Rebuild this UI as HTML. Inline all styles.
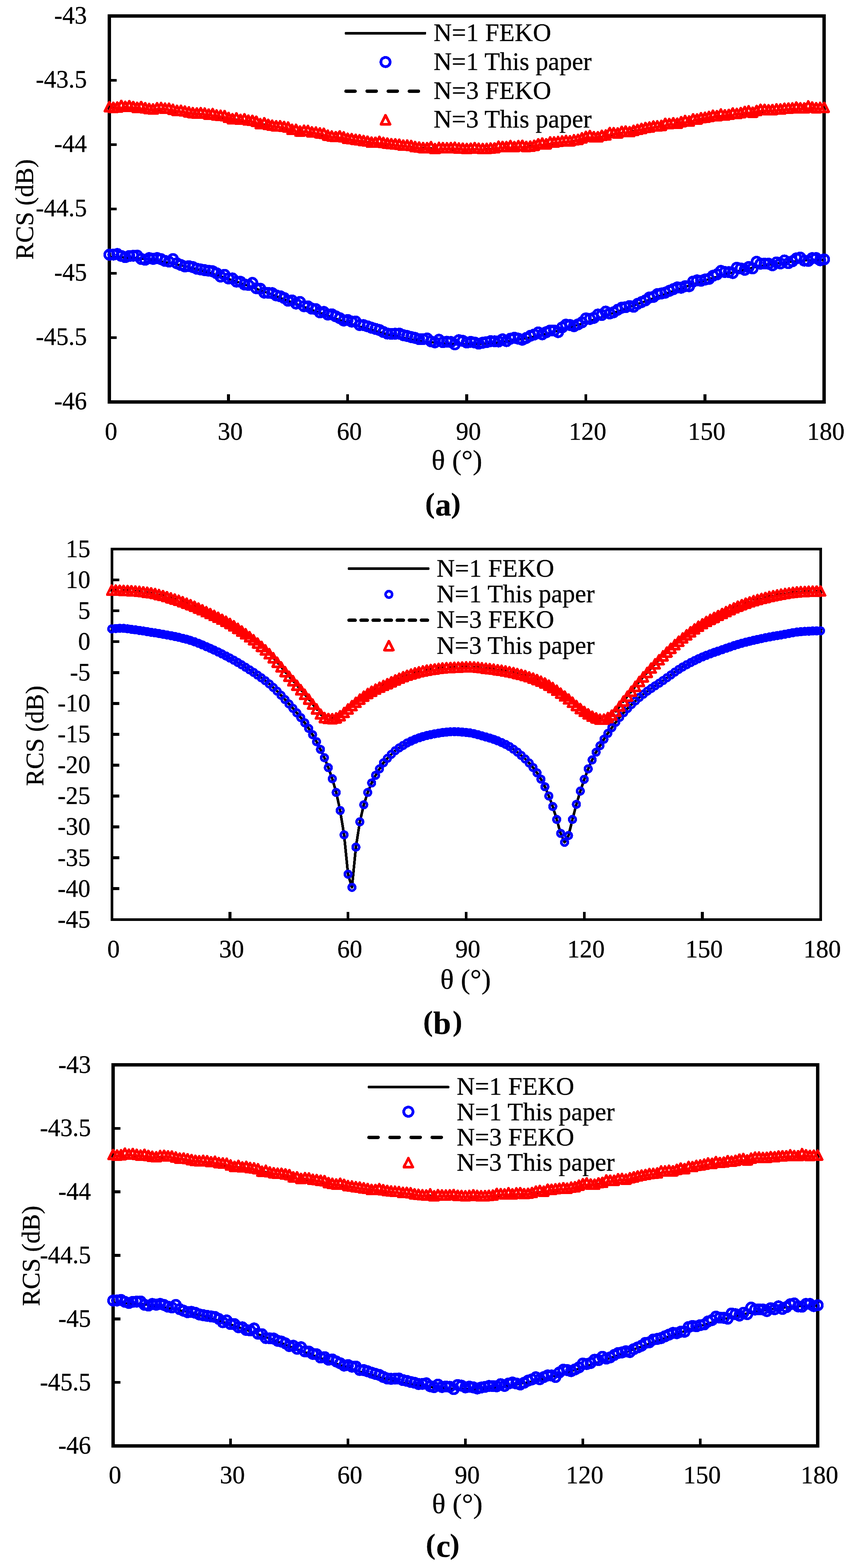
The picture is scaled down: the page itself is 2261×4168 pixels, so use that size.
<!DOCTYPE html>
<html lang="en"><head><meta charset="utf-8"><title>RCS versus θ for N=1 and N=3: FEKO and this paper</title>
<style>html,body{margin:0;padding:0;background:#fff}body{width:2261px;height:4168px;overflow:hidden}svg{display:block}text{font-family:'Liberation Serif', 'DejaVu Serif', serif;fill:#000;stroke:#000;stroke-width:0.5px;stroke-linejoin:round}</style>
</head><body>
<svg width="2261" height="4168" viewBox="0 0 2261 4168" shape-rendering="crispEdges">
<rect width="2261" height="4168" fill="#fff"/>
<g id="chart-a">
<g fill="none" stroke="#000" stroke-width="8.8"><rect x="290.7" y="42.4" width="1898.9" height="1025.9"/><path d="M290.7 213.38h19.5M290.7 384.37h19.5M290.7 555.35h19.5M290.7 726.33h19.5M290.7 897.32h19.5M607.18 1068.3v-20M923.67 1068.3v-20M1240.15 1068.3v-20M1556.63 1068.3v-20M1873.12 1068.3v-20" stroke-width="7.5"/></g>
<g><text transform="translate(230.9 62.5) scale(1 1.045)" font-size="65.2" text-anchor="end">-43</text><text transform="translate(230.9 233.48) scale(1 1.045)" font-size="65.2" text-anchor="end">-43.5</text><text transform="translate(230.9 404.47) scale(1 1.045)" font-size="65.2" text-anchor="end">-44</text><text transform="translate(230.9 575.45) scale(1 1.045)" font-size="65.2" text-anchor="end">-44.5</text><text transform="translate(230.9 746.43) scale(1 1.045)" font-size="65.2" text-anchor="end">-45</text><text transform="translate(230.9 917.42) scale(1 1.045)" font-size="65.2" text-anchor="end">-45.5</text><text transform="translate(230.9 1088.4) scale(1 1.045)" font-size="65.2" text-anchor="end">-46</text><text transform="translate(295.2 1169) scale(1 1.03)" font-size="66.4" text-anchor="middle">0</text><text transform="translate(611.68 1169) scale(1 1.03)" font-size="66.4" text-anchor="middle">30</text><text transform="translate(928.17 1169) scale(1 1.03)" font-size="66.4" text-anchor="middle">60</text><text transform="translate(1244.65 1169) scale(1 1.03)" font-size="66.4" text-anchor="middle">90</text><text transform="translate(1561.13 1169) scale(1 1.03)" font-size="66.4" text-anchor="middle">120</text><text transform="translate(1877.62 1169) scale(1 1.03)" font-size="66.4" text-anchor="middle">150</text><text transform="translate(2194.1 1169) scale(1 1.03)" font-size="66.4" text-anchor="middle">180</text></g>
<text transform="translate(87.6 556.7) rotate(-90)" font-size="67.2" text-anchor="middle">RCS (dB)</text>
<text transform="translate(1213.9 1247.5)" font-size="75" text-anchor="middle">θ (°)</text>
<text font-weight="bold" stroke-width="0.3"><tspan x="1129.7" y="1362.7" font-size="76">(</tspan><tspan x="1156.3" y="1370" font-size="85">a</tspan><tspan x="1198.4" y="1362.7" font-size="76">)</tspan></text>
<polyline points="290.7,683.15 301.25,683.22 311.8,683.44 322.35,683.79 332.9,684.28 343.45,684.92 354,685.69 364.55,686.6 375.1,687.65 385.64,688.84 396.19,690.16 406.74,691.61 417.29,693.19 427.84,694.91 438.39,696.75 448.94,698.71 459.49,700.8 470.04,703.01 480.59,705.34 491.14,707.78 501.69,710.33 512.24,712.99 522.79,715.76 533.34,718.63 543.89,721.6 554.44,724.66 564.99,727.82 575.53,731.06 586.08,734.39 596.63,737.79 607.18,741.27 617.73,744.83 628.28,748.45 638.83,752.13 649.38,755.87 659.93,759.66 670.48,763.5 681.03,767.39 691.58,771.32 702.13,775.28 712.68,779.27 723.23,783.28 733.78,787.32 744.33,791.37 754.88,795.42 765.42,799.49 775.97,803.55 786.52,807.61 797.07,811.66 807.62,815.69 818.17,819.71 828.72,823.7 839.27,827.65 849.82,831.58 860.37,835.46 870.92,839.3 881.47,843.09 892.02,846.83 902.57,850.5 913.12,854.12 923.67,857.66 934.22,861.14 944.77,864.53 955.32,867.85 965.86,871.08 976.41,874.22 986.96,877.28 997.51,880.23 1008.06,883.08 1018.61,885.83 1029.16,888.48 1039.71,891.01 1050.26,893.43 1060.81,895.73 1071.36,897.92 1081.91,899.98 1092.46,901.92 1103.01,903.73 1113.56,905.41 1124.11,906.97 1134.66,908.39 1145.2,909.67 1155.75,910.82 1166.3,911.83 1176.85,912.71 1187.4,913.44 1197.95,914.04 1208.5,914.49 1219.05,914.8 1229.6,914.97 1240.15,915 1250.7,914.89 1261.25,914.64 1271.8,914.25 1282.35,913.72 1292.9,913.05 1303.45,912.24 1314,911.29 1324.55,910.21 1335.1,908.99 1345.64,907.65 1356.19,906.17 1366.74,904.56 1377.29,902.83 1387.84,900.98 1398.39,899 1408.94,896.9 1419.49,894.69 1430.04,892.37 1440.59,889.93 1451.14,887.39 1461.69,884.75 1472.24,882 1482.79,879.16 1493.34,876.23 1503.89,873.21 1514.44,870.1 1524.98,866.91 1535.53,863.65 1546.08,860.31 1556.63,856.9 1567.18,853.43 1577.73,849.9 1588.28,846.31 1598.83,842.68 1609.38,838.99 1619.93,835.27 1630.48,831.5 1641.03,827.71 1651.58,823.88 1662.13,820.03 1672.68,816.17 1683.23,812.29 1693.78,808.4 1704.33,804.51 1714.87,800.61 1725.42,796.72 1735.97,792.84 1746.52,788.98 1757.07,785.13 1767.62,781.31 1778.17,777.51 1788.72,773.75 1799.27,770.03 1809.82,766.34 1820.37,762.7 1830.92,759.11 1841.47,755.58 1852.02,752.1 1862.57,748.69 1873.12,745.34 1883.67,742.06 1894.22,738.86 1904.76,735.73 1915.31,732.68 1925.86,729.72 1936.41,726.85 1946.96,724.07 1957.51,721.38 1968.06,718.79 1978.61,716.3 1989.16,713.91 1999.71,711.63 2010.26,709.46 2020.81,707.39 2031.36,705.45 2041.91,703.61 2052.46,701.9 2063.01,700.3 2073.56,698.82 2084.11,697.47 2094.65,696.24 2105.2,695.14 2115.75,694.16 2126.3,693.31 2136.85,692.6 2147.4,692.01 2157.95,691.55 2168.5,691.22 2179.05,691.02 2189.6,690.96" fill="none" stroke="#000" stroke-width="6" stroke-linejoin="round"/>
<polyline points="290.7,286.44 301.25,286.48 311.8,286.58 322.35,286.75 332.9,286.99 343.45,287.3 354,287.68 364.55,288.12 375.1,288.63 385.64,289.21 396.19,289.86 406.74,290.56 417.29,291.33 427.84,292.17 438.39,293.06 448.94,294.02 459.49,295.04 470.04,296.11 480.59,297.24 491.14,298.42 501.69,299.66 512.24,300.95 522.79,302.3 533.34,303.69 543.89,305.12 554.44,306.6 564.99,308.13 575.53,309.7 586.08,311.3 596.63,312.94 607.18,314.62 617.73,316.33 628.28,318.07 638.83,319.84 649.38,321.64 659.93,323.46 670.48,325.31 681.03,327.17 691.58,329.05 702.13,330.94 712.68,332.85 723.23,334.77 733.78,336.69 744.33,338.63 754.88,340.56 765.42,342.5 775.97,344.43 786.52,346.36 797.07,348.28 807.62,350.19 818.17,352.1 828.72,353.99 839.27,355.86 849.82,357.72 860.37,359.55 870.92,361.37 881.47,363.15 892.02,364.92 902.57,366.65 913.12,368.35 923.67,370.02 934.22,371.65 944.77,373.25 955.32,374.81 965.86,376.33 976.41,377.8 986.96,379.23 997.51,380.62 1008.06,381.96 1018.61,383.24 1029.16,384.48 1039.71,385.67 1050.26,386.8 1060.81,387.88 1071.36,388.9 1081.91,389.87 1092.46,390.77 1103.01,391.62 1113.56,392.41 1124.11,393.14 1134.66,393.8 1145.2,394.4 1155.75,394.94 1166.3,395.42 1176.85,395.83 1187.4,396.18 1197.95,396.46 1208.5,396.67 1219.05,396.82 1229.6,396.91 1240.15,396.93 1250.7,396.88 1261.25,396.77 1271.8,396.59 1282.35,396.35 1292.9,396.04 1303.45,395.67 1314,395.23 1324.55,394.73 1335.1,394.17 1345.64,393.54 1356.19,392.85 1366.74,392.11 1377.29,391.3 1387.84,390.44 1398.39,389.51 1408.94,388.53 1419.49,387.5 1430.04,386.41 1440.59,385.27 1451.14,384.08 1461.69,382.84 1472.24,381.55 1482.79,380.21 1493.34,378.83 1503.89,377.4 1514.44,375.93 1524.98,374.43 1535.53,372.88 1546.08,371.3 1556.63,369.68 1567.18,368.03 1577.73,366.35 1588.28,364.64 1598.83,362.91 1609.38,361.15 1619.93,359.37 1630.48,357.57 1641.03,355.75 1651.58,353.91 1662.13,352.06 1672.68,350.2 1683.23,348.33 1693.78,346.45 1704.33,344.57 1714.87,342.69 1725.42,340.8 1735.97,338.92 1746.52,337.04 1757.07,335.17 1767.62,333.31 1778.17,331.46 1788.72,329.62 1799.27,327.8 1809.82,326 1820.37,324.22 1830.92,322.46 1841.47,320.72 1852.02,319.01 1862.57,317.33 1873.12,315.68 1883.67,314.06 1894.22,312.48 1904.76,310.93 1915.31,309.42 1925.86,307.95 1936.41,306.53 1946.96,305.15 1957.51,303.81 1968.06,302.52 1978.61,301.28 1989.16,300.09 1999.71,298.96 2010.26,297.87 2020.81,296.84 2031.36,295.87 2041.91,294.95 2052.46,294.09 2063.01,293.29 2073.56,292.55 2084.11,291.88 2094.65,291.26 2105.2,290.71 2115.75,290.22 2126.3,289.79 2136.85,289.43 2147.4,289.14 2157.95,288.9 2168.5,288.74 2179.05,288.64 2189.6,288.61" fill="none" stroke="#000" stroke-width="6" stroke-linejoin="round" stroke-linecap="round" stroke-dasharray="24.2 31.9"/>
<g fill="none" stroke="#00f" stroke-width="7.2"><circle cx="290.7" cy="677" r="12.3"/><circle cx="301.25" cy="676.76" r="12.3"/><circle cx="311.8" cy="675.21" r="12.3"/><circle cx="322.35" cy="680.39" r="12.3"/><circle cx="332.9" cy="683.59" r="12.3"/><circle cx="343.45" cy="680.5" r="12.3"/><circle cx="354" cy="679.78" r="12.3"/><circle cx="364.55" cy="679.38" r="12.3"/><circle cx="375.1" cy="688.37" r="12.3"/><circle cx="385.64" cy="690.55" r="12.3"/><circle cx="396.19" cy="686.13" r="12.3"/><circle cx="406.74" cy="688.18" r="12.3"/><circle cx="417.29" cy="686.07" r="12.3"/><circle cx="427.84" cy="688.89" r="12.3"/><circle cx="438.39" cy="693.46" r="12.3"/><circle cx="448.94" cy="695.48" r="12.3"/><circle cx="459.49" cy="688.71" r="12.3"/><circle cx="470.04" cy="699.99" r="12.3"/><circle cx="480.59" cy="704.32" r="12.3"/><circle cx="491.14" cy="708.33" r="12.3"/><circle cx="501.69" cy="707.39" r="12.3"/><circle cx="512.24" cy="710" r="12.3"/><circle cx="522.79" cy="714.32" r="12.3"/><circle cx="533.34" cy="716.3" r="12.3"/><circle cx="543.89" cy="718.13" r="12.3"/><circle cx="554.44" cy="719.66" r="12.3"/><circle cx="564.99" cy="721.11" r="12.3"/><circle cx="575.53" cy="726.44" r="12.3"/><circle cx="586.08" cy="735.25" r="12.3"/><circle cx="596.63" cy="730.44" r="12.3"/><circle cx="607.18" cy="740.17" r="12.3"/><circle cx="617.73" cy="740.21" r="12.3"/><circle cx="628.28" cy="748.73" r="12.3"/><circle cx="638.83" cy="749" r="12.3"/><circle cx="649.38" cy="756.14" r="12.3"/><circle cx="659.93" cy="757.42" r="12.3"/><circle cx="670.48" cy="751.99" r="12.3"/><circle cx="681.03" cy="766.25" r="12.3"/><circle cx="691.58" cy="767.39" r="12.3"/><circle cx="702.13" cy="777.89" r="12.3"/><circle cx="712.68" cy="778.47" r="12.3"/><circle cx="723.23" cy="779.21" r="12.3"/><circle cx="733.78" cy="785.19" r="12.3"/><circle cx="744.33" cy="787.47" r="12.3"/><circle cx="754.88" cy="792.11" r="12.3"/><circle cx="765.42" cy="799.43" r="12.3"/><circle cx="775.97" cy="798.57" r="12.3"/><circle cx="786.52" cy="806.81" r="12.3"/><circle cx="797.07" cy="802.56" r="12.3"/><circle cx="807.62" cy="813.92" r="12.3"/><circle cx="818.17" cy="814.37" r="12.3"/><circle cx="828.72" cy="820.6" r="12.3"/><circle cx="839.27" cy="821.72" r="12.3"/><circle cx="849.82" cy="830.39" r="12.3"/><circle cx="860.37" cy="829.16" r="12.3"/><circle cx="870.92" cy="836.19" r="12.3"/><circle cx="881.47" cy="835.41" r="12.3"/><circle cx="892.02" cy="840.82" r="12.3"/><circle cx="902.57" cy="845.74" r="12.3"/><circle cx="913.12" cy="851.99" r="12.3"/><circle cx="923.67" cy="850.6" r="12.3"/><circle cx="934.22" cy="854.86" r="12.3"/><circle cx="944.77" cy="854.51" r="12.3"/><circle cx="955.32" cy="863.92" r="12.3"/><circle cx="965.86" cy="864.17" r="12.3"/><circle cx="976.41" cy="867.37" r="12.3"/><circle cx="986.96" cy="871.06" r="12.3"/><circle cx="997.51" cy="874.25" r="12.3"/><circle cx="1008.06" cy="877.26" r="12.3"/><circle cx="1018.61" cy="882.58" r="12.3"/><circle cx="1029.16" cy="886.71" r="12.3"/><circle cx="1039.71" cy="887.57" r="12.3"/><circle cx="1050.26" cy="887.16" r="12.3"/><circle cx="1060.81" cy="886.85" r="12.3"/><circle cx="1071.36" cy="890.95" r="12.3"/><circle cx="1081.91" cy="893.05" r="12.3"/><circle cx="1092.46" cy="896.05" r="12.3"/><circle cx="1103.01" cy="898.23" r="12.3"/><circle cx="1113.56" cy="901.58" r="12.3"/><circle cx="1124.11" cy="901.39" r="12.3"/><circle cx="1134.66" cy="899.8" r="12.3"/><circle cx="1145.2" cy="907.63" r="12.3"/><circle cx="1155.75" cy="910.02" r="12.3"/><circle cx="1166.3" cy="903.14" r="12.3"/><circle cx="1176.85" cy="909.62" r="12.3"/><circle cx="1187.4" cy="908.32" r="12.3"/><circle cx="1197.95" cy="909.14" r="12.3"/><circle cx="1208.5" cy="915.39" r="12.3"/><circle cx="1219.05" cy="904.24" r="12.3"/><circle cx="1229.6" cy="905.99" r="12.3"/><circle cx="1240.15" cy="910.64" r="12.3"/><circle cx="1250.7" cy="908.73" r="12.3"/><circle cx="1261.25" cy="910.59" r="12.3"/><circle cx="1271.8" cy="913.6" r="12.3"/><circle cx="1282.35" cy="911.09" r="12.3"/><circle cx="1292.9" cy="909.41" r="12.3"/><circle cx="1303.45" cy="906.84" r="12.3"/><circle cx="1314" cy="907.2" r="12.3"/><circle cx="1324.55" cy="907.75" r="12.3"/><circle cx="1335.1" cy="902.02" r="12.3"/><circle cx="1345.64" cy="906.75" r="12.3"/><circle cx="1356.19" cy="900.34" r="12.3"/><circle cx="1366.74" cy="897.7" r="12.3"/><circle cx="1377.29" cy="900.27" r="12.3"/><circle cx="1387.84" cy="903.03" r="12.3"/><circle cx="1398.39" cy="898.3" r="12.3"/><circle cx="1408.94" cy="892.58" r="12.3"/><circle cx="1419.49" cy="889.24" r="12.3"/><circle cx="1430.04" cy="883.52" r="12.3"/><circle cx="1440.59" cy="888.75" r="12.3"/><circle cx="1451.14" cy="883.07" r="12.3"/><circle cx="1461.69" cy="878.58" r="12.3"/><circle cx="1472.24" cy="878.57" r="12.3"/><circle cx="1482.79" cy="882.84" r="12.3"/><circle cx="1493.34" cy="870.43" r="12.3"/><circle cx="1503.89" cy="863" r="12.3"/><circle cx="1514.44" cy="864.12" r="12.3"/><circle cx="1524.98" cy="867.02" r="12.3"/><circle cx="1535.53" cy="862.29" r="12.3"/><circle cx="1546.08" cy="856.98" r="12.3"/><circle cx="1556.63" cy="846.31" r="12.3"/><circle cx="1567.18" cy="847.84" r="12.3"/><circle cx="1577.73" cy="844.94" r="12.3"/><circle cx="1588.28" cy="836.17" r="12.3"/><circle cx="1598.83" cy="837.39" r="12.3"/><circle cx="1609.38" cy="828.25" r="12.3"/><circle cx="1619.93" cy="833.28" r="12.3"/><circle cx="1630.48" cy="829.94" r="12.3"/><circle cx="1641.03" cy="823.43" r="12.3"/><circle cx="1651.58" cy="818.05" r="12.3"/><circle cx="1662.13" cy="816.63" r="12.3"/><circle cx="1672.68" cy="813.51" r="12.3"/><circle cx="1683.23" cy="815.61" r="12.3"/><circle cx="1693.78" cy="807.76" r="12.3"/><circle cx="1704.33" cy="803.15" r="12.3"/><circle cx="1714.87" cy="798.57" r="12.3"/><circle cx="1725.42" cy="790.75" r="12.3"/><circle cx="1735.97" cy="789.31" r="12.3"/><circle cx="1746.52" cy="781.79" r="12.3"/><circle cx="1757.07" cy="780.19" r="12.3"/><circle cx="1767.62" cy="777.92" r="12.3"/><circle cx="1778.17" cy="773.12" r="12.3"/><circle cx="1788.72" cy="768.81" r="12.3"/><circle cx="1799.27" cy="764.1" r="12.3"/><circle cx="1809.82" cy="764.82" r="12.3"/><circle cx="1820.37" cy="760.75" r="12.3"/><circle cx="1830.92" cy="760.9" r="12.3"/><circle cx="1841.47" cy="748.35" r="12.3"/><circle cx="1852.02" cy="745.24" r="12.3"/><circle cx="1862.57" cy="746.33" r="12.3"/><circle cx="1873.12" cy="743.1" r="12.3"/><circle cx="1883.67" cy="741.29" r="12.3"/><circle cx="1894.22" cy="733.07" r="12.3"/><circle cx="1904.76" cy="729.5" r="12.3"/><circle cx="1915.31" cy="720.14" r="12.3"/><circle cx="1925.86" cy="723" r="12.3"/><circle cx="1936.41" cy="723.28" r="12.3"/><circle cx="1946.96" cy="725.83" r="12.3"/><circle cx="1957.51" cy="711.73" r="12.3"/><circle cx="1968.06" cy="713.52" r="12.3"/><circle cx="1978.61" cy="717.24" r="12.3"/><circle cx="1989.16" cy="709.95" r="12.3"/><circle cx="1999.71" cy="713.58" r="12.3"/><circle cx="2010.26" cy="695.88" r="12.3"/><circle cx="2020.81" cy="701.01" r="12.3"/><circle cx="2031.36" cy="700.58" r="12.3"/><circle cx="2041.91" cy="700.94" r="12.3"/><circle cx="2052.46" cy="705.26" r="12.3"/><circle cx="2063.01" cy="697.45" r="12.3"/><circle cx="2073.56" cy="700.33" r="12.3"/><circle cx="2084.11" cy="692.34" r="12.3"/><circle cx="2094.65" cy="699.53" r="12.3"/><circle cx="2105.2" cy="694.57" r="12.3"/><circle cx="2115.75" cy="686.89" r="12.3"/><circle cx="2126.3" cy="684.64" r="12.3"/><circle cx="2136.85" cy="692.76" r="12.3"/><circle cx="2147.4" cy="693.64" r="12.3"/><circle cx="2157.95" cy="686.09" r="12.3"/><circle cx="2168.5" cy="686.11" r="12.3"/><circle cx="2179.05" cy="691.8" r="12.3"/><circle cx="2189.6" cy="689.5" r="12.3"/></g>
<path d="M290.7 271.8L302.7 295.6L278.7 295.6ZM301.25 273.4L313.25 297.2L289.25 297.2ZM311.8 272.7L323.8 296.5L299.8 296.5ZM322.35 268.15L334.35 291.95L310.35 291.95ZM332.9 270.89L344.9 294.69L320.9 294.69ZM343.45 269.1L355.45 292.9L331.45 292.9ZM354 271.13L366 294.93L342 294.93ZM364.55 273.42L376.55 297.22L352.55 297.22ZM375.1 271.14L387.1 294.94L363.1 294.94ZM385.64 274.39L397.64 298.19L373.64 298.19ZM396.19 276.66L408.19 300.46L384.19 300.46ZM406.74 277.83L418.74 301.63L394.74 301.63ZM417.29 274.53L429.29 298.33L405.29 298.33ZM427.84 273.97L439.84 297.77L415.84 297.77ZM438.39 275.66L450.39 299.46L426.39 299.46ZM448.94 275.87L460.94 299.67L436.94 299.67ZM459.49 278.66L471.49 302.46L447.49 302.46ZM470.04 281.34L482.04 305.14L458.04 305.14ZM480.59 281.27L492.59 305.07L468.59 305.07ZM491.14 283.12L503.14 306.92L479.14 306.92ZM501.69 285.41L513.69 309.21L489.69 309.21ZM512.24 287.51L524.24 311.31L500.24 311.31ZM522.79 288.45L534.79 312.25L510.79 312.25ZM533.34 287.53L545.34 311.33L521.34 311.33ZM543.89 288.75L555.89 312.55L531.89 312.55ZM554.44 291.26L566.44 315.06L542.44 315.06ZM564.99 289.94L576.99 313.74L552.99 313.74ZM575.53 293.5L587.53 317.3L563.53 317.3ZM586.08 294.53L598.08 318.33L574.08 318.33ZM596.63 295.23L608.63 319.03L584.63 319.03ZM607.18 300.08L619.18 323.88L595.18 323.88ZM617.73 303.59L629.73 327.39L605.73 327.39ZM628.28 301.16L640.28 324.96L616.28 324.96ZM638.83 305.16L650.83 328.96L626.83 328.96ZM649.38 303.87L661.38 327.67L637.38 327.67ZM659.93 307.19L671.93 330.99L647.93 330.99ZM670.48 308.02L682.48 331.82L658.48 331.82ZM681.03 310.3L693.03 334.1L669.03 334.1ZM691.58 316.66L703.58 340.46L679.58 340.46ZM702.13 314.41L714.13 338.21L690.13 338.21ZM712.68 318.62L724.68 342.42L700.68 342.42ZM723.23 320.8L735.23 344.6L711.23 344.6ZM733.78 322.3L745.78 346.1L721.78 346.1ZM744.33 322.42L756.33 346.22L732.33 346.22ZM754.88 324.19L766.88 347.99L742.88 347.99ZM765.42 325.9L777.42 349.7L753.42 349.7ZM775.97 331.84L787.97 355.64L763.97 355.64ZM786.52 331.93L798.52 355.73L774.52 355.73ZM797.07 336.29L809.07 360.09L785.07 360.09ZM807.62 334.35L819.62 358.15L795.62 358.15ZM818.17 334.86L830.17 358.66L806.17 358.66ZM828.72 338.68L840.72 362.48L816.72 362.48ZM839.27 339.06L851.27 362.86L827.27 362.86ZM849.82 341.22L861.82 365.02L837.82 365.02ZM860.37 342.24L872.37 366.04L848.37 366.04ZM870.92 347.25L882.92 371.05L858.92 371.05ZM881.47 349.3L893.47 373.1L869.47 373.1ZM892.02 351.15L904.02 374.95L880.02 374.95ZM902.57 349.18L914.57 372.98L890.57 372.98ZM913.12 352.03L925.12 375.83L901.12 375.83ZM923.67 355.62L935.67 379.42L911.67 379.42ZM934.22 356.69L946.22 380.49L922.22 380.49ZM944.77 358.37L956.77 382.17L932.77 382.17ZM955.32 359.65L967.32 383.45L943.32 383.45ZM965.86 361.65L977.86 385.45L953.86 385.45ZM976.41 363.15L988.41 386.95L964.41 386.95ZM986.96 365.85L998.96 389.65L974.96 389.65ZM997.51 366.12L1009.51 389.92L985.51 389.92ZM1008.06 363.77L1020.06 387.57L996.06 387.57ZM1018.61 366.63L1030.61 390.43L1006.61 390.43ZM1029.16 368.48L1041.16 392.28L1017.16 392.28ZM1039.71 370.03L1051.71 393.83L1027.71 393.83ZM1050.26 370.68L1062.26 394.48L1038.26 394.48ZM1060.81 371.3L1072.81 395.1L1048.81 395.1ZM1071.36 373.9L1083.36 397.7L1059.36 397.7ZM1081.91 373.68L1093.91 397.48L1069.91 397.48ZM1092.46 374.88L1104.46 398.68L1080.46 398.68ZM1103.01 377.76L1115.01 401.56L1091.01 401.56ZM1113.56 379.04L1125.56 402.84L1101.56 402.84ZM1124.11 380.22L1136.11 404.02L1112.11 404.02ZM1134.66 380.65L1146.66 404.45L1122.66 404.45ZM1145.2 377.84L1157.2 401.64L1133.2 401.64ZM1155.75 383.01L1167.75 406.81L1143.75 406.81ZM1166.3 379.94L1178.3 403.74L1154.3 403.74ZM1176.85 380.61L1188.85 404.41L1164.85 404.41ZM1187.4 380.86L1199.4 404.66L1175.4 404.66ZM1197.95 380.29L1209.95 404.09L1185.95 404.09ZM1208.5 379.35L1220.5 403.15L1196.5 403.15ZM1219.05 381.52L1231.05 405.32L1207.05 405.32ZM1229.6 382.11L1241.6 405.91L1217.6 405.91ZM1240.15 382.82L1252.15 406.62L1228.15 406.62ZM1250.7 381.98L1262.7 405.78L1238.7 405.78ZM1261.25 380.23L1273.25 404.03L1249.25 404.03ZM1271.8 382.04L1283.8 405.84L1259.8 405.84ZM1282.35 382.95L1294.35 406.75L1270.35 406.75ZM1292.9 382.6L1304.9 406.4L1280.9 406.4ZM1303.45 381.58L1315.45 405.38L1291.45 405.38ZM1314 381.16L1326 404.96L1302 404.96ZM1324.55 376.59L1336.55 400.39L1312.55 400.39ZM1335.1 377.25L1347.1 401.05L1323.1 401.05ZM1345.64 377.78L1357.64 401.58L1333.64 401.58ZM1356.19 374.81L1368.19 398.61L1344.19 398.61ZM1366.74 377.69L1378.74 401.49L1354.74 401.49ZM1377.29 375.06L1389.29 398.86L1365.29 398.86ZM1387.84 374.39L1399.84 398.19L1375.84 398.19ZM1398.39 377.21L1410.39 401.01L1386.39 401.01ZM1408.94 376.28L1420.94 400.08L1396.94 400.08ZM1419.49 374.25L1431.49 398.05L1407.49 398.05ZM1430.04 370.28L1442.04 394.08L1418.04 394.08ZM1440.59 368.28L1452.59 392.08L1428.59 392.08ZM1451.14 370.47L1463.14 394.27L1439.14 394.27ZM1461.69 365.15L1473.69 388.95L1449.69 388.95ZM1472.24 365.58L1484.24 389.38L1460.24 389.38ZM1482.79 364.05L1494.79 387.85L1470.79 387.85ZM1493.34 362.92L1505.34 386.72L1481.34 386.72ZM1503.89 361.27L1515.89 385.07L1491.89 385.07ZM1514.44 362.28L1526.44 386.08L1502.44 386.08ZM1524.98 359.7L1536.98 383.5L1512.98 383.5ZM1535.53 358.66L1547.53 382.46L1523.53 382.46ZM1546.08 354.57L1558.08 378.37L1534.08 378.37ZM1556.63 350.65L1568.63 374.45L1544.63 374.45ZM1567.18 348.15L1579.18 371.95L1555.18 371.95ZM1577.73 351.29L1589.73 375.09L1565.73 375.09ZM1588.28 351.74L1600.28 375.54L1576.28 375.54ZM1598.83 347.91L1610.83 371.71L1586.83 371.71ZM1609.38 346.87L1621.38 370.67L1597.38 370.67ZM1619.93 340.52L1631.93 364.32L1607.93 364.32ZM1630.48 340.95L1642.48 364.75L1618.48 364.75ZM1641.03 341.35L1653.03 365.15L1629.03 365.15ZM1651.58 337.26L1663.58 361.06L1639.58 361.06ZM1662.13 336.36L1674.13 360.16L1650.13 360.16ZM1672.68 338.09L1684.68 361.89L1660.68 361.89ZM1683.23 334.63L1695.23 358.43L1671.23 358.43ZM1693.78 332.12L1705.78 355.92L1681.78 355.92ZM1704.33 329.48L1716.33 353.28L1692.33 353.28ZM1714.87 327.04L1726.87 350.84L1702.87 350.84ZM1725.42 325.64L1737.42 349.44L1713.42 349.44ZM1735.97 322.98L1747.97 346.78L1723.97 346.78ZM1746.52 322.49L1758.52 346.29L1734.52 346.29ZM1757.07 321.36L1769.07 345.16L1745.07 345.16ZM1767.62 316.07L1779.62 339.87L1755.62 339.87ZM1778.17 316.2L1790.17 340L1766.17 340ZM1788.72 314.34L1800.72 338.14L1776.72 338.14ZM1799.27 315.69L1811.27 339.49L1787.27 339.49ZM1809.82 311.68L1821.82 335.48L1797.82 335.48ZM1820.37 308.32L1832.37 332.12L1808.37 332.12ZM1830.92 309.7L1842.92 333.5L1818.92 333.5ZM1841.47 304.06L1853.47 327.86L1829.47 327.86ZM1852.02 304.31L1864.02 328.11L1840.02 328.11ZM1862.57 301.07L1874.57 324.87L1850.57 324.87ZM1873.12 299.97L1885.12 323.77L1861.12 323.77ZM1883.67 297.7L1895.67 321.5L1871.67 321.5ZM1894.22 294.59L1906.22 318.39L1882.22 318.39ZM1904.76 295.55L1916.76 319.35L1892.76 319.35ZM1915.31 291.08L1927.31 314.88L1903.31 314.88ZM1925.86 293.29L1937.86 317.09L1913.86 317.09ZM1936.41 292.14L1948.41 315.94L1924.41 315.94ZM1946.96 288.26L1958.96 312.06L1934.96 312.06ZM1957.51 289.69L1969.51 313.49L1945.51 313.49ZM1968.06 287.37L1980.06 311.17L1956.06 311.17ZM1978.61 284.22L1990.61 308.02L1966.61 308.02ZM1989.16 282.66L2001.16 306.46L1977.16 306.46ZM1999.71 286.25L2011.71 310.05L1987.71 310.05ZM2010.26 281.77L2022.26 305.57L1998.26 305.57ZM2020.81 278.71L2032.81 302.51L2008.81 302.51ZM2031.36 278.8L2043.36 302.6L2019.36 302.6ZM2041.91 279.95L2053.91 303.75L2029.91 303.75ZM2052.46 279.28L2064.46 303.08L2040.46 303.08ZM2063.01 277.6L2075.01 301.4L2051.01 301.4ZM2073.56 277.88L2085.56 301.68L2061.56 301.68ZM2084.11 275.84L2096.11 299.64L2072.11 299.64ZM2094.65 275.37L2106.65 299.17L2082.65 299.17ZM2105.2 275.02L2117.2 298.82L2093.2 298.82ZM2115.75 272.73L2127.75 296.53L2103.75 296.53ZM2126.3 274.7L2138.3 298.5L2114.3 298.5ZM2136.85 275.02L2148.85 298.82L2124.85 298.82ZM2147.4 269.6L2159.4 293.4L2135.4 293.4ZM2157.95 272.7L2169.95 296.5L2145.95 296.5ZM2168.5 274.32L2180.5 298.12L2156.5 298.12ZM2179.05 273.7L2191.05 297.5L2167.05 297.5ZM2189.6 273.5L2201.6 297.3L2177.6 297.3Z" fill="none" stroke="#f00" stroke-width="7" stroke-linejoin="round"/>
<g fill="none"><path d="M919.5 88.3H1128.8" stroke="#000" stroke-width="7.4" stroke-linecap="round"/><circle cx="1024.2" cy="164.9" r="12.3" stroke="#00f" stroke-width="7.2"/><path d="M919.3 242.4H1128.1" stroke="#000" stroke-width="8.8" stroke-linecap="round" stroke-dasharray="24.2 31.9"/><path d="M1024.2 306.5L1036.2 330.3L1012.2 330.3Z" stroke="#f00" stroke-width="7" stroke-linejoin="round"/></g>
<g><text letter-spacing="0.15" transform="translate(1152 109.3) scale(1 1.025)" font-size="67">N=1 FEKO</text><text transform="translate(1152 186) scale(1 1.025)" font-size="67">N=1 This paper</text><text letter-spacing="0.15" transform="translate(1152 262.8) scale(1 1.025)" font-size="67">N=3 FEKO</text><text transform="translate(1152 339.2) scale(1 1.025)" font-size="67">N=3 This paper</text></g>
</g>
<g id="chart-b">
<g fill="none" stroke="#000" stroke-width="7"><rect x="297" y="1459.6" width="1883" height="984.5"/><path d="M297 1541.64h19.5M297 1623.68h19.5M297 1705.72h19.5M297 1787.77h19.5M297 1869.81h19.5M297 1951.85h19.5M297 2033.89h19.5M297 2115.93h19.5M297 2197.97h19.5M297 2280.02h19.5M297 2362.06h19.5M610.83 2444.1v-20M924.67 2444.1v-20M1238.5 2444.1v-20M1552.33 2444.1v-20M1866.17 2444.1v-20" stroke-width="7.5"/></g>
<g><text transform="translate(240 1481.1) scale(1 1.045)" font-size="65.2" text-anchor="end">15</text><text transform="translate(240 1563.14) scale(1 1.045)" font-size="65.2" text-anchor="end">10</text><text transform="translate(240 1645.18) scale(1 1.045)" font-size="65.2" text-anchor="end">5</text><text transform="translate(240 1727.22) scale(1 1.045)" font-size="65.2" text-anchor="end">0</text><text transform="translate(240 1809.27) scale(1 1.045)" font-size="65.2" text-anchor="end">-5</text><text transform="translate(240 1891.31) scale(1 1.045)" font-size="65.2" text-anchor="end">-10</text><text transform="translate(240 1973.35) scale(1 1.045)" font-size="65.2" text-anchor="end">-15</text><text transform="translate(240 2055.39) scale(1 1.045)" font-size="65.2" text-anchor="end">-20</text><text transform="translate(240 2137.43) scale(1 1.045)" font-size="65.2" text-anchor="end">-25</text><text transform="translate(240 2219.47) scale(1 1.045)" font-size="65.2" text-anchor="end">-30</text><text transform="translate(240 2301.52) scale(1 1.045)" font-size="65.2" text-anchor="end">-35</text><text transform="translate(240 2383.56) scale(1 1.045)" font-size="65.2" text-anchor="end">-40</text><text transform="translate(240 2465.6) scale(1 1.045)" font-size="65.2" text-anchor="end">-45</text><text transform="translate(301.5 2544.7) scale(1 1.03)" font-size="66.4" text-anchor="middle">0</text><text transform="translate(615.33 2544.7) scale(1 1.03)" font-size="66.4" text-anchor="middle">30</text><text transform="translate(929.17 2544.7) scale(1 1.03)" font-size="66.4" text-anchor="middle">60</text><text transform="translate(1243 2544.7) scale(1 1.03)" font-size="66.4" text-anchor="middle">90</text><text transform="translate(1556.83 2544.7) scale(1 1.03)" font-size="66.4" text-anchor="middle">120</text><text transform="translate(1870.67 2544.7) scale(1 1.03)" font-size="66.4" text-anchor="middle">150</text><text transform="translate(2184.5 2544.7) scale(1 1.03)" font-size="66.4" text-anchor="middle">180</text></g>
<text transform="translate(114.9 1955.9) rotate(-90)" font-size="67.2" text-anchor="middle">RCS (dB)</text>
<text transform="translate(1237 2627.5)" font-size="75" text-anchor="middle">θ (°)</text>
<text font-weight="bold" stroke-width="0.3"><tspan x="1124.5" y="2740" font-size="76">(</tspan><tspan x="1151.1" y="2747.5" font-size="85">b</tspan><tspan x="1202.8" y="2740" font-size="76">)</tspan></text>
<polyline points="297,1671.76 307.46,1670.63 317.92,1670.17 328.38,1670.31 338.84,1671.46 349.31,1672.91 359.77,1674.28 370.23,1675.8 380.69,1677.43 391.15,1679.1 401.61,1680.78 412.07,1682.44 422.53,1684.1 432.99,1685.82 443.46,1687.65 453.92,1689.64 464.38,1691.81 474.84,1694.13 485.3,1696.65 495.76,1699.41 506.22,1702.44 516.68,1705.92 527.14,1709.91 537.61,1714.25 548.07,1718.81 558.53,1723.45 568.99,1728.18 579.45,1733.13 589.91,1738.29 600.37,1743.65 610.83,1749.21 621.29,1754.99 631.76,1761.04 642.22,1767.32 652.68,1773.83 663.14,1780.55 673.6,1787.4 684.06,1794.41 694.52,1801.74 704.98,1809.54 715.44,1817.96 725.91,1827.23 736.37,1837.38 746.83,1848.19 757.29,1859.5 767.75,1871.12 778.21,1882.87 788.67,1894.93 799.13,1907.63 809.59,1921.29 820.06,1936.26 830.52,1952.97 840.98,1971.57 851.44,1992.01 861.9,2014.2 872.36,2040.45 882.82,2069.99 893.28,2106.42 903.74,2154.49 914.21,2219.14 924.67,2323.66 935.13,2358.78 945.59,2251.79 956.05,2184.52 966.51,2139.4 976.97,2106.42 987.43,2081.31 997.89,2060.97 1008.36,2043.74 1018.82,2027.66 1029.28,2015.84 1039.74,2005.18 1050.2,1995.5 1060.66,1987.95 1071.12,1981.55 1081.58,1974.99 1092.04,1969.97 1102.51,1965.42 1112.97,1961.39 1123.43,1957.95 1133.89,1955.13 1144.35,1952.73 1154.81,1950.56 1165.27,1948.68 1175.73,1947.17 1186.19,1946.11 1196.66,1945.33 1207.12,1944.96 1217.58,1945.25 1228.04,1945.98 1238.5,1946.93 1248.96,1948.33 1259.42,1950.42 1269.88,1953.02 1280.34,1955.91 1290.81,1958.91 1301.27,1962.02 1311.73,1965.47 1322.19,1969.33 1332.65,1973.68 1343.11,1978.6 1353.57,1984.43 1364.03,1991.39 1374.49,1999.31 1384.96,2008.06 1395.42,2017.48 1405.88,2028.05 1416.34,2040.34 1426.8,2054.4 1437.26,2071.24 1447.72,2091.32 1458.18,2115.93 1468.64,2143.83 1479.11,2178.28 1489.57,2215.37 1500.03,2239 1510.49,2220.95 1520.95,2178.28 1531.41,2138.08 1541.87,2102.81 1552.33,2071.63 1562.79,2043.74 1573.26,2019.94 1583.72,1999.43 1594.18,1982.21 1604.64,1964.98 1615.1,1949.34 1625.56,1934.28 1636.02,1919.99 1646.48,1906.64 1656.94,1894.42 1667.41,1883.21 1677.87,1872.74 1688.33,1862.95 1698.79,1853.79 1709.25,1845.2 1719.71,1837.27 1730.17,1829.96 1740.63,1823 1751.09,1816.14 1761.56,1809.1 1772.02,1801.7 1782.48,1794.13 1792.94,1786.65 1803.4,1779.52 1813.86,1773 1824.32,1767.03 1834.78,1761.38 1845.24,1756.06 1855.71,1751.07 1866.17,1746.42 1876.63,1742.12 1887.09,1738.12 1897.55,1734.33 1908.01,1730.67 1918.47,1727.06 1928.93,1723.42 1939.39,1719.82 1949.86,1716.33 1960.32,1713.03 1970.78,1709.99 1981.24,1707.2 1991.7,1704.58 2002.16,1702.11 2012.62,1699.77 2023.08,1697.52 2033.54,1695.38 2044.01,1693.35 2054.47,1691.4 2064.93,1689.52 2075.39,1687.68 2085.85,1685.73 2096.31,1683.7 2106.77,1681.79 2117.23,1680.2 2127.69,1679.14 2138.16,1678.44 2148.62,1677.81 2159.08,1677.31 2169.54,1676.97 2180,1676.85" fill="none" stroke="#000" stroke-width="6.9" stroke-linejoin="round"/>
<polyline points="297,1568.72 307.46,1568.8 317.92,1569.05 328.38,1569.41 338.84,1569.86 349.31,1570.36 359.77,1571.02 370.23,1571.98 380.69,1573.17 391.15,1574.56 401.61,1576.1 412.07,1578 422.53,1580.41 432.99,1583.18 443.46,1586.17 453.92,1589.23 464.38,1592.39 474.84,1595.8 485.3,1599.43 495.76,1603.26 506.22,1607.27 516.68,1611.58 527.14,1616.21 537.61,1621.07 548.07,1626.05 558.53,1631.07 568.99,1636.03 579.45,1641.01 589.91,1646.14 600.37,1651.54 610.83,1657.32 621.29,1663.58 631.76,1670.27 642.22,1677.37 652.68,1684.82 663.14,1692.6 673.6,1700.71 684.06,1709.24 694.52,1718.23 704.98,1727.71 715.44,1737.72 725.91,1748.61 736.37,1760.43 746.83,1772.79 757.29,1785.31 767.75,1797.61 778.21,1809.61 788.67,1821.58 799.13,1833.61 809.59,1845.82 820.06,1858.32 830.52,1871.56 840.98,1884.58 851.44,1898.18 861.9,1907.55 872.36,1910.01 882.82,1910.34 893.28,1908.37 903.74,1902.62 914.21,1894.05 924.67,1884.58 935.13,1875.8 945.59,1866.98 956.05,1858.45 966.51,1850.53 976.97,1843.55 987.43,1837.5 997.89,1832.01 1008.36,1826.93 1018.82,1822.08 1029.28,1817.3 1039.74,1812.46 1050.2,1807.66 1060.66,1803.07 1071.12,1798.84 1081.58,1795.15 1092.04,1791.86 1102.51,1788.78 1112.97,1785.98 1123.43,1783.54 1133.89,1781.53 1144.35,1779.82 1154.81,1778.25 1165.27,1776.89 1175.73,1775.78 1186.19,1774.97 1196.66,1774.37 1207.12,1773.86 1217.58,1773.43 1228.04,1773.09 1238.5,1772.84 1248.96,1772.67 1259.42,1773.03 1269.88,1773.92 1280.34,1775.09 1290.81,1776.28 1301.27,1777.46 1311.73,1778.79 1322.19,1780.27 1332.65,1781.89 1343.11,1783.66 1353.57,1785.64 1364.03,1787.87 1374.49,1790.34 1384.96,1793.05 1395.42,1795.97 1405.88,1799.16 1416.34,1802.68 1426.8,1806.58 1437.26,1810.89 1447.72,1815.66 1458.18,1821.25 1468.64,1827.8 1479.11,1835 1489.57,1842.54 1500.03,1850.12 1510.49,1858.11 1520.95,1866.75 1531.41,1875.5 1541.87,1883.81 1552.33,1891.14 1562.79,1897.77 1573.26,1903.8 1583.72,1908.37 1594.18,1911.8 1604.64,1911.81 1615.1,1907.42 1625.56,1900.98 1636.02,1891.07 1646.48,1877.19 1656.94,1863.24 1667.41,1850.38 1677.87,1837.31 1688.33,1824.28 1698.79,1811.51 1709.25,1799.25 1719.71,1787.46 1730.17,1775.96 1740.63,1764.78 1751.09,1753.93 1761.56,1743.46 1772.02,1733.29 1782.48,1723.36 1792.94,1713.76 1803.4,1704.57 1813.86,1695.88 1824.32,1687.58 1834.78,1679.56 1845.24,1671.92 1855.71,1664.75 1866.17,1658.14 1876.63,1652.1 1887.09,1646.5 1897.55,1641.22 1908.01,1636.12 1918.47,1631.07 1928.93,1625.97 1939.39,1620.91 1949.86,1616.02 1960.32,1611.42 1970.78,1607.27 1981.24,1603.51 1991.7,1600 2002.16,1596.72 2012.62,1593.68 2023.08,1590.87 2033.54,1588.21 2044.01,1585.68 2054.47,1583.33 2064.93,1581.21 2075.39,1579.38 2085.85,1577.71 2096.31,1576.12 2106.77,1574.7 2117.23,1573.57 2127.69,1572.82 2138.16,1572.31 2148.62,1571.86 2159.08,1571.5 2169.54,1571.26 2180,1571.18" fill="none" stroke="#000" stroke-width="6.9" stroke-linejoin="round" stroke-linecap="round" stroke-dasharray="16.7 15.37"/>
<g fill="none" stroke="#00f" stroke-width="7"><circle cx="297" cy="1671.76" r="8.6"/><circle cx="307.46" cy="1670.63" r="8.6"/><circle cx="317.92" cy="1670.17" r="8.6"/><circle cx="328.38" cy="1670.31" r="8.6"/><circle cx="338.84" cy="1671.46" r="8.6"/><circle cx="349.31" cy="1672.91" r="8.6"/><circle cx="359.77" cy="1674.28" r="8.6"/><circle cx="370.23" cy="1675.8" r="8.6"/><circle cx="380.69" cy="1677.43" r="8.6"/><circle cx="391.15" cy="1679.1" r="8.6"/><circle cx="401.61" cy="1680.78" r="8.6"/><circle cx="412.07" cy="1682.44" r="8.6"/><circle cx="422.53" cy="1684.1" r="8.6"/><circle cx="432.99" cy="1685.82" r="8.6"/><circle cx="443.46" cy="1687.65" r="8.6"/><circle cx="453.92" cy="1689.64" r="8.6"/><circle cx="464.38" cy="1691.81" r="8.6"/><circle cx="474.84" cy="1694.13" r="8.6"/><circle cx="485.3" cy="1696.65" r="8.6"/><circle cx="495.76" cy="1699.41" r="8.6"/><circle cx="506.22" cy="1702.44" r="8.6"/><circle cx="516.68" cy="1705.92" r="8.6"/><circle cx="527.14" cy="1709.91" r="8.6"/><circle cx="537.61" cy="1714.25" r="8.6"/><circle cx="548.07" cy="1718.81" r="8.6"/><circle cx="558.53" cy="1723.45" r="8.6"/><circle cx="568.99" cy="1728.18" r="8.6"/><circle cx="579.45" cy="1733.13" r="8.6"/><circle cx="589.91" cy="1738.29" r="8.6"/><circle cx="600.37" cy="1743.65" r="8.6"/><circle cx="610.83" cy="1749.21" r="8.6"/><circle cx="621.29" cy="1754.99" r="8.6"/><circle cx="631.76" cy="1761.04" r="8.6"/><circle cx="642.22" cy="1767.32" r="8.6"/><circle cx="652.68" cy="1773.83" r="8.6"/><circle cx="663.14" cy="1780.55" r="8.6"/><circle cx="673.6" cy="1787.4" r="8.6"/><circle cx="684.06" cy="1794.41" r="8.6"/><circle cx="694.52" cy="1801.74" r="8.6"/><circle cx="704.98" cy="1809.54" r="8.6"/><circle cx="715.44" cy="1817.96" r="8.6"/><circle cx="725.91" cy="1827.23" r="8.6"/><circle cx="736.37" cy="1837.38" r="8.6"/><circle cx="746.83" cy="1848.19" r="8.6"/><circle cx="757.29" cy="1859.5" r="8.6"/><circle cx="767.75" cy="1871.12" r="8.6"/><circle cx="778.21" cy="1882.87" r="8.6"/><circle cx="788.67" cy="1894.93" r="8.6"/><circle cx="799.13" cy="1907.63" r="8.6"/><circle cx="809.59" cy="1921.29" r="8.6"/><circle cx="820.06" cy="1936.26" r="8.6"/><circle cx="830.52" cy="1952.97" r="8.6"/><circle cx="840.98" cy="1971.57" r="8.6"/><circle cx="851.44" cy="1992.01" r="8.6"/><circle cx="861.9" cy="2014.2" r="8.6"/><circle cx="872.36" cy="2040.45" r="8.6"/><circle cx="882.82" cy="2069.99" r="8.6"/><circle cx="893.28" cy="2106.42" r="8.6"/><circle cx="903.74" cy="2154.49" r="8.6"/><circle cx="914.21" cy="2219.14" r="8.6"/><circle cx="924.67" cy="2323.66" r="8.6"/><circle cx="935.13" cy="2358.78" r="8.6"/><circle cx="945.59" cy="2251.79" r="8.6"/><circle cx="956.05" cy="2184.52" r="8.6"/><circle cx="966.51" cy="2139.4" r="8.6"/><circle cx="976.97" cy="2106.42" r="8.6"/><circle cx="987.43" cy="2081.31" r="8.6"/><circle cx="997.89" cy="2060.97" r="8.6"/><circle cx="1008.36" cy="2043.74" r="8.6"/><circle cx="1018.82" cy="2027.66" r="8.6"/><circle cx="1029.28" cy="2015.84" r="8.6"/><circle cx="1039.74" cy="2005.18" r="8.6"/><circle cx="1050.2" cy="1995.5" r="8.6"/><circle cx="1060.66" cy="1987.95" r="8.6"/><circle cx="1071.12" cy="1981.55" r="8.6"/><circle cx="1081.58" cy="1974.99" r="8.6"/><circle cx="1092.04" cy="1969.97" r="8.6"/><circle cx="1102.51" cy="1965.42" r="8.6"/><circle cx="1112.97" cy="1961.39" r="8.6"/><circle cx="1123.43" cy="1957.95" r="8.6"/><circle cx="1133.89" cy="1955.13" r="8.6"/><circle cx="1144.35" cy="1952.73" r="8.6"/><circle cx="1154.81" cy="1950.56" r="8.6"/><circle cx="1165.27" cy="1948.68" r="8.6"/><circle cx="1175.73" cy="1947.17" r="8.6"/><circle cx="1186.19" cy="1946.11" r="8.6"/><circle cx="1196.66" cy="1945.33" r="8.6"/><circle cx="1207.12" cy="1944.96" r="8.6"/><circle cx="1217.58" cy="1945.25" r="8.6"/><circle cx="1228.04" cy="1945.98" r="8.6"/><circle cx="1238.5" cy="1946.93" r="8.6"/><circle cx="1248.96" cy="1948.33" r="8.6"/><circle cx="1259.42" cy="1950.42" r="8.6"/><circle cx="1269.88" cy="1953.02" r="8.6"/><circle cx="1280.34" cy="1955.91" r="8.6"/><circle cx="1290.81" cy="1958.91" r="8.6"/><circle cx="1301.27" cy="1962.02" r="8.6"/><circle cx="1311.73" cy="1965.47" r="8.6"/><circle cx="1322.19" cy="1969.33" r="8.6"/><circle cx="1332.65" cy="1973.68" r="8.6"/><circle cx="1343.11" cy="1978.6" r="8.6"/><circle cx="1353.57" cy="1984.43" r="8.6"/><circle cx="1364.03" cy="1991.39" r="8.6"/><circle cx="1374.49" cy="1999.31" r="8.6"/><circle cx="1384.96" cy="2008.06" r="8.6"/><circle cx="1395.42" cy="2017.48" r="8.6"/><circle cx="1405.88" cy="2028.05" r="8.6"/><circle cx="1416.34" cy="2040.34" r="8.6"/><circle cx="1426.8" cy="2054.4" r="8.6"/><circle cx="1437.26" cy="2071.24" r="8.6"/><circle cx="1447.72" cy="2091.32" r="8.6"/><circle cx="1458.18" cy="2115.93" r="8.6"/><circle cx="1468.64" cy="2143.83" r="8.6"/><circle cx="1479.11" cy="2178.28" r="8.6"/><circle cx="1489.57" cy="2215.37" r="8.6"/><circle cx="1500.03" cy="2239" r="8.6"/><circle cx="1510.49" cy="2220.95" r="8.6"/><circle cx="1520.95" cy="2178.28" r="8.6"/><circle cx="1531.41" cy="2138.08" r="8.6"/><circle cx="1541.87" cy="2102.81" r="8.6"/><circle cx="1552.33" cy="2071.63" r="8.6"/><circle cx="1562.79" cy="2043.74" r="8.6"/><circle cx="1573.26" cy="2019.94" r="8.6"/><circle cx="1583.72" cy="1999.43" r="8.6"/><circle cx="1594.18" cy="1982.21" r="8.6"/><circle cx="1604.64" cy="1964.98" r="8.6"/><circle cx="1615.1" cy="1949.34" r="8.6"/><circle cx="1625.56" cy="1934.28" r="8.6"/><circle cx="1636.02" cy="1919.99" r="8.6"/><circle cx="1646.48" cy="1906.64" r="8.6"/><circle cx="1656.94" cy="1894.42" r="8.6"/><circle cx="1667.41" cy="1883.21" r="8.6"/><circle cx="1677.87" cy="1872.74" r="8.6"/><circle cx="1688.33" cy="1862.95" r="8.6"/><circle cx="1698.79" cy="1853.79" r="8.6"/><circle cx="1709.25" cy="1845.2" r="8.6"/><circle cx="1719.71" cy="1837.27" r="8.6"/><circle cx="1730.17" cy="1829.96" r="8.6"/><circle cx="1740.63" cy="1823" r="8.6"/><circle cx="1751.09" cy="1816.14" r="8.6"/><circle cx="1761.56" cy="1809.1" r="8.6"/><circle cx="1772.02" cy="1801.7" r="8.6"/><circle cx="1782.48" cy="1794.13" r="8.6"/><circle cx="1792.94" cy="1786.65" r="8.6"/><circle cx="1803.4" cy="1779.52" r="8.6"/><circle cx="1813.86" cy="1773" r="8.6"/><circle cx="1824.32" cy="1767.03" r="8.6"/><circle cx="1834.78" cy="1761.38" r="8.6"/><circle cx="1845.24" cy="1756.06" r="8.6"/><circle cx="1855.71" cy="1751.07" r="8.6"/><circle cx="1866.17" cy="1746.42" r="8.6"/><circle cx="1876.63" cy="1742.12" r="8.6"/><circle cx="1887.09" cy="1738.12" r="8.6"/><circle cx="1897.55" cy="1734.33" r="8.6"/><circle cx="1908.01" cy="1730.67" r="8.6"/><circle cx="1918.47" cy="1727.06" r="8.6"/><circle cx="1928.93" cy="1723.42" r="8.6"/><circle cx="1939.39" cy="1719.82" r="8.6"/><circle cx="1949.86" cy="1716.33" r="8.6"/><circle cx="1960.32" cy="1713.03" r="8.6"/><circle cx="1970.78" cy="1709.99" r="8.6"/><circle cx="1981.24" cy="1707.2" r="8.6"/><circle cx="1991.7" cy="1704.58" r="8.6"/><circle cx="2002.16" cy="1702.11" r="8.6"/><circle cx="2012.62" cy="1699.77" r="8.6"/><circle cx="2023.08" cy="1697.52" r="8.6"/><circle cx="2033.54" cy="1695.38" r="8.6"/><circle cx="2044.01" cy="1693.35" r="8.6"/><circle cx="2054.47" cy="1691.4" r="8.6"/><circle cx="2064.93" cy="1689.52" r="8.6"/><circle cx="2075.39" cy="1687.68" r="8.6"/><circle cx="2085.85" cy="1685.73" r="8.6"/><circle cx="2096.31" cy="1683.7" r="8.6"/><circle cx="2106.77" cy="1681.79" r="8.6"/><circle cx="2117.23" cy="1680.2" r="8.6"/><circle cx="2127.69" cy="1679.14" r="8.6"/><circle cx="2138.16" cy="1678.44" r="8.6"/><circle cx="2148.62" cy="1677.81" r="8.6"/><circle cx="2159.08" cy="1677.31" r="8.6"/><circle cx="2169.54" cy="1676.97" r="8.6"/><circle cx="2180" cy="1676.85" r="8.6"/></g>
<path d="M297 1556.72L309 1580.52L285 1580.52ZM307.46 1556.8L319.46 1580.6L295.46 1580.6ZM317.92 1557.05L329.92 1580.85L305.92 1580.85ZM328.38 1557.41L340.38 1581.21L316.38 1581.21ZM338.84 1557.86L350.84 1581.66L326.84 1581.66ZM349.31 1558.36L361.31 1582.16L337.31 1582.16ZM359.77 1559.02L371.77 1582.82L347.77 1582.82ZM370.23 1559.98L382.23 1583.78L358.23 1583.78ZM380.69 1561.17L392.69 1584.97L368.69 1584.97ZM391.15 1562.56L403.15 1586.36L379.15 1586.36ZM401.61 1564.1L413.61 1587.9L389.61 1587.9ZM412.07 1566L424.07 1589.8L400.07 1589.8ZM422.53 1568.41L434.53 1592.21L410.53 1592.21ZM432.99 1571.18L444.99 1594.98L420.99 1594.98ZM443.46 1574.17L455.46 1597.97L431.46 1597.97ZM453.92 1577.23L465.92 1601.03L441.92 1601.03ZM464.38 1580.39L476.38 1604.19L452.38 1604.19ZM474.84 1583.8L486.84 1607.6L462.84 1607.6ZM485.3 1587.43L497.3 1611.23L473.3 1611.23ZM495.76 1591.26L507.76 1615.06L483.76 1615.06ZM506.22 1595.27L518.22 1619.07L494.22 1619.07ZM516.68 1599.58L528.68 1623.38L504.68 1623.38ZM527.14 1604.21L539.14 1628.01L515.14 1628.01ZM537.61 1609.07L549.61 1632.87L525.61 1632.87ZM548.07 1614.05L560.07 1637.85L536.07 1637.85ZM558.53 1619.07L570.53 1642.87L546.53 1642.87ZM568.99 1624.03L580.99 1647.83L556.99 1647.83ZM579.45 1629.01L591.45 1652.81L567.45 1652.81ZM589.91 1634.14L601.91 1657.94L577.91 1657.94ZM600.37 1639.54L612.37 1663.34L588.37 1663.34ZM610.83 1645.32L622.83 1669.12L598.83 1669.12ZM621.29 1651.58L633.29 1675.38L609.29 1675.38ZM631.76 1658.27L643.76 1682.07L619.76 1682.07ZM642.22 1665.37L654.22 1689.17L630.22 1689.17ZM652.68 1672.82L664.68 1696.62L640.68 1696.62ZM663.14 1680.6L675.14 1704.4L651.14 1704.4ZM673.6 1688.71L685.6 1712.51L661.6 1712.51ZM684.06 1697.24L696.06 1721.04L672.06 1721.04ZM694.52 1706.23L706.52 1730.03L682.52 1730.03ZM704.98 1715.71L716.98 1739.51L692.98 1739.51ZM715.44 1725.72L727.44 1749.52L703.44 1749.52ZM725.91 1736.61L737.91 1760.41L713.91 1760.41ZM736.37 1748.43L748.37 1772.23L724.37 1772.23ZM746.83 1760.79L758.83 1784.59L734.83 1784.59ZM757.29 1773.31L769.29 1797.11L745.29 1797.11ZM767.75 1785.61L779.75 1809.41L755.75 1809.41ZM778.21 1797.61L790.21 1821.41L766.21 1821.41ZM788.67 1809.58L800.67 1833.38L776.67 1833.38ZM799.13 1821.61L811.13 1845.41L787.13 1845.41ZM809.59 1833.82L821.59 1857.62L797.59 1857.62ZM820.06 1846.32L832.06 1870.12L808.06 1870.12ZM830.52 1859.56L842.52 1883.36L818.52 1883.36ZM840.98 1872.58L852.98 1896.38L828.98 1896.38ZM851.44 1886.18L863.44 1909.98L839.44 1909.98ZM861.9 1895.55L873.9 1919.35L849.9 1919.35ZM872.36 1898.01L884.36 1921.81L860.36 1921.81ZM882.82 1898.34L894.82 1922.14L870.82 1922.14ZM893.28 1896.37L905.28 1920.17L881.28 1920.17ZM903.74 1890.62L915.74 1914.42L891.74 1914.42ZM914.21 1882.05L926.21 1905.85L902.21 1905.85ZM924.67 1872.58L936.67 1896.38L912.67 1896.38ZM935.13 1863.8L947.13 1887.6L923.13 1887.6ZM945.59 1854.98L957.59 1878.78L933.59 1878.78ZM956.05 1846.45L968.05 1870.25L944.05 1870.25ZM966.51 1838.53L978.51 1862.33L954.51 1862.33ZM976.97 1831.55L988.97 1855.35L964.97 1855.35ZM987.43 1825.5L999.43 1849.3L975.43 1849.3ZM997.89 1820.01L1009.89 1843.81L985.89 1843.81ZM1008.36 1814.93L1020.36 1838.73L996.36 1838.73ZM1018.82 1810.08L1030.82 1833.88L1006.82 1833.88ZM1029.28 1805.3L1041.28 1829.1L1017.28 1829.1ZM1039.74 1800.46L1051.74 1824.26L1027.74 1824.26ZM1050.2 1795.66L1062.2 1819.46L1038.2 1819.46ZM1060.66 1791.07L1072.66 1814.87L1048.66 1814.87ZM1071.12 1786.84L1083.12 1810.64L1059.12 1810.64ZM1081.58 1783.15L1093.58 1806.95L1069.58 1806.95ZM1092.04 1779.86L1104.04 1803.66L1080.04 1803.66ZM1102.51 1776.78L1114.51 1800.58L1090.51 1800.58ZM1112.97 1773.98L1124.97 1797.78L1100.97 1797.78ZM1123.43 1771.54L1135.43 1795.34L1111.43 1795.34ZM1133.89 1769.53L1145.89 1793.33L1121.89 1793.33ZM1144.35 1767.82L1156.35 1791.62L1132.35 1791.62ZM1154.81 1766.25L1166.81 1790.05L1142.81 1790.05ZM1165.27 1764.89L1177.27 1788.69L1153.27 1788.69ZM1175.73 1763.78L1187.73 1787.58L1163.73 1787.58ZM1186.19 1762.97L1198.19 1786.77L1174.19 1786.77ZM1196.66 1762.37L1208.66 1786.17L1184.66 1786.17ZM1207.12 1761.86L1219.12 1785.66L1195.12 1785.66ZM1217.58 1761.43L1229.58 1785.23L1205.58 1785.23ZM1228.04 1761.09L1240.04 1784.89L1216.04 1784.89ZM1238.5 1760.84L1250.5 1784.64L1226.5 1784.64ZM1248.96 1760.67L1260.96 1784.47L1236.96 1784.47ZM1259.42 1761.03L1271.42 1784.83L1247.42 1784.83ZM1269.88 1761.92L1281.88 1785.72L1257.88 1785.72ZM1280.34 1763.09L1292.34 1786.89L1268.34 1786.89ZM1290.81 1764.28L1302.81 1788.08L1278.81 1788.08ZM1301.27 1765.46L1313.27 1789.26L1289.27 1789.26ZM1311.73 1766.79L1323.73 1790.59L1299.73 1790.59ZM1322.19 1768.27L1334.19 1792.07L1310.19 1792.07ZM1332.65 1769.89L1344.65 1793.69L1320.65 1793.69ZM1343.11 1771.66L1355.11 1795.46L1331.11 1795.46ZM1353.57 1773.64L1365.57 1797.44L1341.57 1797.44ZM1364.03 1775.87L1376.03 1799.67L1352.03 1799.67ZM1374.49 1778.34L1386.49 1802.14L1362.49 1802.14ZM1384.96 1781.05L1396.96 1804.85L1372.96 1804.85ZM1395.42 1783.97L1407.42 1807.77L1383.42 1807.77ZM1405.88 1787.16L1417.88 1810.96L1393.88 1810.96ZM1416.34 1790.68L1428.34 1814.48L1404.34 1814.48ZM1426.8 1794.58L1438.8 1818.38L1414.8 1818.38ZM1437.26 1798.89L1449.26 1822.69L1425.26 1822.69ZM1447.72 1803.66L1459.72 1827.46L1435.72 1827.46ZM1458.18 1809.25L1470.18 1833.05L1446.18 1833.05ZM1468.64 1815.8L1480.64 1839.6L1456.64 1839.6ZM1479.11 1823L1491.11 1846.8L1467.11 1846.8ZM1489.57 1830.54L1501.57 1854.34L1477.57 1854.34ZM1500.03 1838.12L1512.03 1861.92L1488.03 1861.92ZM1510.49 1846.11L1522.49 1869.91L1498.49 1869.91ZM1520.95 1854.75L1532.95 1878.55L1508.95 1878.55ZM1531.41 1863.5L1543.41 1887.3L1519.41 1887.3ZM1541.87 1871.81L1553.87 1895.61L1529.87 1895.61ZM1552.33 1879.14L1564.33 1902.94L1540.33 1902.94ZM1562.79 1885.77L1574.79 1909.57L1550.79 1909.57ZM1573.26 1891.8L1585.26 1915.6L1561.26 1915.6ZM1583.72 1896.37L1595.72 1920.17L1571.72 1920.17ZM1594.18 1899.8L1606.18 1923.6L1582.18 1923.6ZM1604.64 1899.81L1616.64 1923.61L1592.64 1923.61ZM1615.1 1895.42L1627.1 1919.22L1603.1 1919.22ZM1625.56 1888.98L1637.56 1912.78L1613.56 1912.78ZM1636.02 1879.07L1648.02 1902.87L1624.02 1902.87ZM1646.48 1865.19L1658.48 1888.99L1634.48 1888.99ZM1656.94 1851.24L1668.94 1875.04L1644.94 1875.04ZM1667.41 1838.38L1679.41 1862.18L1655.41 1862.18ZM1677.87 1825.31L1689.87 1849.11L1665.87 1849.11ZM1688.33 1812.28L1700.33 1836.08L1676.33 1836.08ZM1698.79 1799.51L1710.79 1823.31L1686.79 1823.31ZM1709.25 1787.25L1721.25 1811.05L1697.25 1811.05ZM1719.71 1775.46L1731.71 1799.26L1707.71 1799.26ZM1730.17 1763.96L1742.17 1787.76L1718.17 1787.76ZM1740.63 1752.78L1752.63 1776.58L1728.63 1776.58ZM1751.09 1741.93L1763.09 1765.73L1739.09 1765.73ZM1761.56 1731.46L1773.56 1755.26L1749.56 1755.26ZM1772.02 1721.29L1784.02 1745.09L1760.02 1745.09ZM1782.48 1711.36L1794.48 1735.16L1770.48 1735.16ZM1792.94 1701.76L1804.94 1725.56L1780.94 1725.56ZM1803.4 1692.57L1815.4 1716.37L1791.4 1716.37ZM1813.86 1683.88L1825.86 1707.68L1801.86 1707.68ZM1824.32 1675.58L1836.32 1699.38L1812.32 1699.38ZM1834.78 1667.56L1846.78 1691.36L1822.78 1691.36ZM1845.24 1659.92L1857.24 1683.72L1833.24 1683.72ZM1855.71 1652.75L1867.71 1676.55L1843.71 1676.55ZM1866.17 1646.14L1878.17 1669.94L1854.17 1669.94ZM1876.63 1640.1L1888.63 1663.9L1864.63 1663.9ZM1887.09 1634.5L1899.09 1658.3L1875.09 1658.3ZM1897.55 1629.22L1909.55 1653.02L1885.55 1653.02ZM1908.01 1624.12L1920.01 1647.92L1896.01 1647.92ZM1918.47 1619.07L1930.47 1642.87L1906.47 1642.87ZM1928.93 1613.97L1940.93 1637.77L1916.93 1637.77ZM1939.39 1608.91L1951.39 1632.71L1927.39 1632.71ZM1949.86 1604.02L1961.86 1627.82L1937.86 1627.82ZM1960.32 1599.42L1972.32 1623.22L1948.32 1623.22ZM1970.78 1595.27L1982.78 1619.07L1958.78 1619.07ZM1981.24 1591.51L1993.24 1615.31L1969.24 1615.31ZM1991.7 1588L2003.7 1611.8L1979.7 1611.8ZM2002.16 1584.72L2014.16 1608.52L1990.16 1608.52ZM2012.62 1581.68L2024.62 1605.48L2000.62 1605.48ZM2023.08 1578.87L2035.08 1602.67L2011.08 1602.67ZM2033.54 1576.21L2045.54 1600.01L2021.54 1600.01ZM2044.01 1573.68L2056.01 1597.48L2032.01 1597.48ZM2054.47 1571.33L2066.47 1595.13L2042.47 1595.13ZM2064.93 1569.21L2076.93 1593.01L2052.93 1593.01ZM2075.39 1567.38L2087.39 1591.18L2063.39 1591.18ZM2085.85 1565.71L2097.85 1589.51L2073.85 1589.51ZM2096.31 1564.12L2108.31 1587.92L2084.31 1587.92ZM2106.77 1562.7L2118.77 1586.5L2094.77 1586.5ZM2117.23 1561.57L2129.23 1585.37L2105.23 1585.37ZM2127.69 1560.82L2139.69 1584.62L2115.69 1584.62ZM2138.16 1560.31L2150.16 1584.11L2126.16 1584.11ZM2148.62 1559.86L2160.62 1583.66L2136.62 1583.66ZM2159.08 1559.5L2171.08 1583.3L2147.08 1583.3ZM2169.54 1559.26L2181.54 1583.06L2157.54 1583.06ZM2180 1559.18L2192 1582.98L2168 1582.98Z" fill="none" stroke="#f00" stroke-width="7" stroke-linejoin="round"/>
<g fill="none"><path d="M927.55 1511.5H1137.65" stroke="#000" stroke-width="7.1" stroke-linecap="round"/><circle cx="1033.2" cy="1580" r="8.6" stroke="#00f" stroke-width="7"/><path d="M927.05 1648.6H1136.85" stroke="#000" stroke-width="8.7" stroke-linecap="round" stroke-dasharray="16.7 15.37"/><path d="M1033.2 1704.2L1045.2 1728L1021.2 1728Z" stroke="#f00" stroke-width="7" stroke-linejoin="round"/></g>
<g><text letter-spacing="0.15" transform="translate(1160 1533) scale(1 1.025)" font-size="67">N=1 FEKO</text><text transform="translate(1160 1601) scale(1 1.025)" font-size="67">N=1 This paper</text><text letter-spacing="0.15" transform="translate(1160 1669) scale(1 1.025)" font-size="67">N=3 FEKO</text><text transform="translate(1160 1738) scale(1 1.025)" font-size="67">N=3 This paper</text></g>
</g>
<g id="chart-c">
<g fill="none" stroke="#000" stroke-width="8.6"><rect x="300.7" y="2830.6" width="1871.8" height="1012.9"/><path d="M300.7 2999.42h19.5M300.7 3168.23h19.5M300.7 3337.05h19.5M300.7 3505.87h19.5M300.7 3674.68h19.5M612.67 3843.5v-20M924.63 3843.5v-20M1236.6 3843.5v-20M1548.57 3843.5v-20M1860.53 3843.5v-20" stroke-width="7.5"/></g>
<g><text transform="translate(241.7 2851.5) scale(1 1.045)" font-size="65.2" text-anchor="end">-43</text><text transform="translate(241.7 3020.32) scale(1 1.045)" font-size="65.2" text-anchor="end">-43.5</text><text transform="translate(241.7 3189.13) scale(1 1.045)" font-size="65.2" text-anchor="end">-44</text><text transform="translate(241.7 3357.95) scale(1 1.045)" font-size="65.2" text-anchor="end">-44.5</text><text transform="translate(241.7 3526.77) scale(1 1.045)" font-size="65.2" text-anchor="end">-45</text><text transform="translate(241.7 3695.58) scale(1 1.045)" font-size="65.2" text-anchor="end">-45.5</text><text transform="translate(241.7 3864.4) scale(1 1.045)" font-size="65.2" text-anchor="end">-46</text><text transform="translate(305.5 3943.4) scale(1 1.03)" font-size="66.4" text-anchor="middle">0</text><text transform="translate(617.47 3943.4) scale(1 1.03)" font-size="66.4" text-anchor="middle">30</text><text transform="translate(929.43 3943.4) scale(1 1.03)" font-size="66.4" text-anchor="middle">60</text><text transform="translate(1241.4 3943.4) scale(1 1.03)" font-size="66.4" text-anchor="middle">90</text><text transform="translate(1553.37 3943.4) scale(1 1.03)" font-size="66.4" text-anchor="middle">120</text><text transform="translate(1865.33 3943.4) scale(1 1.03)" font-size="66.4" text-anchor="middle">150</text><text transform="translate(2177.3 3943.4) scale(1 1.03)" font-size="66.4" text-anchor="middle">180</text></g>
<text transform="translate(104.8 3338.3) rotate(-90)" font-size="67.2" text-anchor="middle">RCS (dB)</text>
<text transform="translate(1215 4021.8)" font-size="75" text-anchor="middle">θ (°)</text>
<text font-weight="bold" stroke-width="0.3"><tspan x="1131.6" y="4130" font-size="76">(</tspan><tspan x="1159" y="4137.6" font-size="85">c</tspan><tspan x="1195.5" y="4130" font-size="76">)</tspan></text>
<polyline points="300.7,3463.28 311.1,3463.35 321.5,3463.56 331.9,3463.91 342.3,3464.39 352.69,3465.02 363.09,3465.78 373.49,3466.68 383.89,3467.72 394.29,3468.89 404.69,3470.19 415.09,3471.63 425.49,3473.19 435.89,3474.88 446.28,3476.7 456.68,3478.64 467.08,3480.7 477.48,3482.88 487.88,3485.18 498.28,3487.59 508.68,3490.11 519.08,3492.74 529.48,3495.47 539.87,3498.31 550.27,3501.24 560.67,3504.26 571.07,3507.38 581.47,3510.58 591.87,3513.86 602.27,3517.23 612.67,3520.66 623.07,3524.17 633.46,3527.74 643.86,3531.38 654.26,3535.07 664.66,3538.82 675.06,3542.61 685.46,3546.45 695.86,3550.32 706.26,3554.23 716.66,3558.17 727.05,3562.14 737.45,3566.12 747.85,3570.12 758.25,3574.13 768.65,3578.14 779.05,3582.15 789.45,3586.16 799.85,3590.16 810.25,3594.14 820.64,3598.1 831.04,3602.04 841.44,3605.95 851.84,3609.82 862.24,3613.66 872.64,3617.45 883.04,3621.19 893.44,3624.88 903.84,3628.51 914.23,3632.07 924.63,3635.58 935.03,3639.01 945.43,3642.36 955.83,3645.63 966.23,3648.83 976.63,3651.93 987.03,3654.94 997.43,3657.86 1007.82,3660.67 1018.22,3663.39 1028.62,3666 1039.02,3668.5 1049.42,3670.89 1059.82,3673.16 1070.22,3675.32 1080.62,3677.36 1091.02,3679.27 1101.41,3681.06 1111.81,3682.72 1122.21,3684.25 1132.61,3685.66 1143.01,3686.93 1153.41,3688.06 1163.81,3689.06 1174.21,3689.92 1184.61,3690.65 1195,3691.23 1205.4,3691.68 1215.8,3691.99 1226.2,3692.16 1236.6,3692.19 1247,3692.08 1257.4,3691.83 1267.8,3691.45 1278.2,3690.92 1288.59,3690.26 1298.99,3689.46 1309.39,3688.53 1319.79,3687.46 1330.19,3686.26 1340.59,3684.93 1350.99,3683.47 1361.39,3681.88 1371.79,3680.17 1382.18,3678.34 1392.58,3676.39 1402.98,3674.32 1413.38,3672.14 1423.78,3669.84 1434.18,3667.44 1444.58,3664.93 1454.98,3662.32 1465.38,3659.61 1475.77,3656.8 1486.17,3653.91 1496.57,3650.92 1506.97,3647.86 1517.37,3644.71 1527.77,3641.49 1538.17,3638.19 1548.57,3634.83 1558.97,3631.4 1569.36,3627.91 1579.76,3624.37 1590.16,3620.78 1600.56,3617.14 1610.96,3613.46 1621.36,3609.75 1631.76,3606 1642.16,3602.22 1652.56,3598.43 1662.95,3594.61 1673.35,3590.78 1683.75,3586.94 1694.15,3583.09 1704.55,3579.25 1714.95,3575.41 1725.35,3571.58 1735.75,3567.76 1746.15,3563.96 1756.54,3560.19 1766.94,3556.44 1777.34,3552.73 1787.74,3549.05 1798.14,3545.41 1808.54,3541.82 1818.94,3538.28 1829.34,3534.79 1839.74,3531.35 1850.13,3527.98 1860.53,3524.68 1870.93,3521.44 1881.33,3518.28 1891.73,3515.19 1902.13,3512.18 1912.53,3509.26 1922.93,3506.42 1933.33,3503.67 1943.72,3501.02 1954.12,3498.46 1964.52,3496 1974.92,3493.65 1985.32,3491.39 1995.72,3489.25 2006.12,3487.21 2016.52,3485.29 2026.92,3483.48 2037.31,3481.78 2047.71,3480.21 2058.11,3478.75 2068.51,3477.41 2078.91,3476.2 2089.31,3475.11 2099.71,3474.15 2110.11,3473.31 2120.51,3472.6 2130.9,3472.02 2141.3,3471.57 2151.7,3471.24 2162.1,3471.05 2172.5,3470.98" fill="none" stroke="#000" stroke-width="6" stroke-linejoin="round"/>
<polyline points="300.7,3071.59 311.1,3071.63 321.5,3071.73 331.9,3071.9 342.3,3072.14 352.69,3072.44 363.09,3072.82 373.49,3073.25 383.89,3073.76 394.29,3074.33 404.69,3074.96 415.09,3075.66 425.49,3076.42 435.89,3077.25 446.28,3078.13 456.68,3079.08 467.08,3080.08 477.48,3081.14 487.88,3082.25 498.28,3083.42 508.68,3084.65 519.08,3085.92 529.48,3087.25 539.87,3088.62 550.27,3090.04 560.67,3091.5 571.07,3093.01 581.47,3094.55 591.87,3096.14 602.27,3097.76 612.67,3099.42 623.07,3101.11 633.46,3102.83 643.86,3104.57 654.26,3106.35 664.66,3108.15 675.06,3109.97 685.46,3111.8 695.86,3113.66 706.26,3115.53 716.66,3117.42 727.05,3119.31 737.45,3121.21 747.85,3123.12 758.25,3125.03 768.65,3126.94 779.05,3128.85 789.45,3130.75 799.85,3132.65 810.25,3134.54 820.64,3136.42 831.04,3138.28 841.44,3140.13 851.84,3141.97 862.24,3143.78 872.64,3145.57 883.04,3147.33 893.44,3149.07 903.84,3150.78 914.23,3152.46 924.63,3154.11 935.03,3155.73 945.43,3157.3 955.83,3158.84 966.23,3160.34 976.63,3161.8 987.03,3163.21 997.43,3164.58 1007.82,3165.9 1018.22,3167.17 1028.62,3168.39 1039.02,3169.56 1049.42,3170.68 1059.82,3171.75 1070.22,3172.76 1080.62,3173.71 1091.02,3174.6 1101.41,3175.44 1111.81,3176.22 1122.21,3176.94 1132.61,3177.59 1143.01,3178.19 1153.41,3178.72 1163.81,3179.19 1174.21,3179.6 1184.61,3179.94 1195,3180.22 1205.4,3180.43 1215.8,3180.58 1226.2,3180.66 1236.6,3180.68 1247,3180.63 1257.4,3180.52 1267.8,3180.35 1278.2,3180.11 1288.59,3179.8 1298.99,3179.43 1309.39,3179 1319.79,3178.51 1330.19,3177.95 1340.59,3177.34 1350.99,3176.66 1361.39,3175.92 1371.79,3175.12 1382.18,3174.27 1392.58,3173.36 1402.98,3172.39 1413.38,3171.37 1423.78,3170.3 1434.18,3169.17 1444.58,3167.99 1454.98,3166.77 1465.38,3165.49 1475.77,3164.17 1486.17,3162.81 1496.57,3161.4 1506.97,3159.95 1517.37,3158.46 1527.77,3156.94 1538.17,3155.38 1548.57,3153.78 1558.97,3152.15 1569.36,3150.49 1579.76,3148.81 1590.16,3147.09 1600.56,3145.36 1610.96,3143.6 1621.36,3141.82 1631.76,3140.02 1642.16,3138.21 1652.56,3136.38 1662.95,3134.54 1673.35,3132.7 1683.75,3130.84 1694.15,3128.99 1704.55,3127.13 1714.95,3125.27 1725.35,3123.41 1735.75,3121.56 1746.15,3119.71 1756.54,3117.87 1766.94,3116.04 1777.34,3114.23 1787.74,3112.43 1798.14,3110.65 1808.54,3108.89 1818.94,3107.15 1829.34,3105.44 1839.74,3103.75 1850.13,3102.09 1860.53,3100.46 1870.93,3098.86 1881.33,3097.3 1891.73,3095.77 1902.13,3094.28 1912.53,3092.83 1922.93,3091.43 1933.33,3090.06 1943.72,3088.74 1954.12,3087.47 1964.52,3086.25 1974.92,3085.07 1985.32,3083.95 1995.72,3082.88 2006.12,3081.86 2016.52,3080.9 2026.92,3080 2037.31,3079.15 2047.71,3078.36 2058.11,3077.63 2068.51,3076.96 2078.91,3076.35 2089.31,3075.81 2099.71,3075.32 2110.11,3074.9 2120.51,3074.55 2130.9,3074.25 2141.3,3074.03 2151.7,3073.86 2162.1,3073.76 2172.5,3073.73" fill="none" stroke="#000" stroke-width="6" stroke-linejoin="round" stroke-linecap="round" stroke-dasharray="24.4 31.6"/>
<g fill="none" stroke="#00f" stroke-width="7.2"><circle cx="300.7" cy="3457.16" r="12.3"/><circle cx="311.1" cy="3456.92" r="12.3"/><circle cx="321.5" cy="3455.39" r="12.3"/><circle cx="331.9" cy="3460.5" r="12.3"/><circle cx="342.3" cy="3463.66" r="12.3"/><circle cx="352.69" cy="3460.61" r="12.3"/><circle cx="363.09" cy="3459.9" r="12.3"/><circle cx="373.49" cy="3459.51" r="12.3"/><circle cx="383.89" cy="3468.38" r="12.3"/><circle cx="394.29" cy="3470.54" r="12.3"/><circle cx="404.69" cy="3466.17" r="12.3"/><circle cx="415.09" cy="3468.19" r="12.3"/><circle cx="425.49" cy="3466.11" r="12.3"/><circle cx="435.89" cy="3468.9" r="12.3"/><circle cx="446.28" cy="3473.41" r="12.3"/><circle cx="456.68" cy="3475.41" r="12.3"/><circle cx="467.08" cy="3468.72" r="12.3"/><circle cx="477.48" cy="3479.86" r="12.3"/><circle cx="487.88" cy="3484.13" r="12.3"/><circle cx="498.28" cy="3488.09" r="12.3"/><circle cx="508.68" cy="3487.17" r="12.3"/><circle cx="519.08" cy="3489.74" r="12.3"/><circle cx="529.48" cy="3494.01" r="12.3"/><circle cx="539.87" cy="3495.97" r="12.3"/><circle cx="550.27" cy="3497.76" r="12.3"/><circle cx="560.67" cy="3499.28" r="12.3"/><circle cx="571.07" cy="3500.7" r="12.3"/><circle cx="581.47" cy="3505.97" r="12.3"/><circle cx="591.87" cy="3514.67" r="12.3"/><circle cx="602.27" cy="3509.92" r="12.3"/><circle cx="612.67" cy="3519.53" r="12.3"/><circle cx="623.07" cy="3519.56" r="12.3"/><circle cx="633.46" cy="3527.98" r="12.3"/><circle cx="643.86" cy="3528.25" r="12.3"/><circle cx="654.26" cy="3535.3" r="12.3"/><circle cx="664.66" cy="3536.56" r="12.3"/><circle cx="675.06" cy="3531.2" r="12.3"/><circle cx="685.46" cy="3545.28" r="12.3"/><circle cx="695.86" cy="3546.4" r="12.3"/><circle cx="706.26" cy="3556.77" r="12.3"/><circle cx="716.66" cy="3557.34" r="12.3"/><circle cx="727.05" cy="3558.08" r="12.3"/><circle cx="737.45" cy="3563.97" r="12.3"/><circle cx="747.85" cy="3566.22" r="12.3"/><circle cx="758.25" cy="3570.81" r="12.3"/><circle cx="768.65" cy="3578.04" r="12.3"/><circle cx="779.05" cy="3577.19" r="12.3"/><circle cx="789.45" cy="3585.32" r="12.3"/><circle cx="799.85" cy="3581.13" r="12.3"/><circle cx="810.25" cy="3592.34" r="12.3"/><circle cx="820.64" cy="3592.79" r="12.3"/><circle cx="831.04" cy="3598.94" r="12.3"/><circle cx="841.44" cy="3600.05" r="12.3"/><circle cx="851.84" cy="3608.61" r="12.3"/><circle cx="862.24" cy="3607.39" r="12.3"/><circle cx="872.64" cy="3614.33" r="12.3"/><circle cx="883.04" cy="3613.56" r="12.3"/><circle cx="893.44" cy="3618.9" r="12.3"/><circle cx="903.84" cy="3623.76" r="12.3"/><circle cx="914.23" cy="3629.93" r="12.3"/><circle cx="924.63" cy="3628.56" r="12.3"/><circle cx="935.03" cy="3632.76" r="12.3"/><circle cx="945.43" cy="3632.42" r="12.3"/><circle cx="955.83" cy="3641.71" r="12.3"/><circle cx="966.23" cy="3641.95" r="12.3"/><circle cx="976.63" cy="3645.11" r="12.3"/><circle cx="987.03" cy="3648.76" r="12.3"/><circle cx="997.43" cy="3651.91" r="12.3"/><circle cx="1007.82" cy="3654.88" r="12.3"/><circle cx="1018.22" cy="3660.13" r="12.3"/><circle cx="1028.62" cy="3664.21" r="12.3"/><circle cx="1039.02" cy="3665.06" r="12.3"/><circle cx="1049.42" cy="3664.65" r="12.3"/><circle cx="1059.82" cy="3664.35" r="12.3"/><circle cx="1070.22" cy="3668.4" r="12.3"/><circle cx="1080.62" cy="3670.47" r="12.3"/><circle cx="1091.02" cy="3673.44" r="12.3"/><circle cx="1101.41" cy="3675.58" r="12.3"/><circle cx="1111.81" cy="3678.89" r="12.3"/><circle cx="1122.21" cy="3678.71" r="12.3"/><circle cx="1132.61" cy="3677.14" r="12.3"/><circle cx="1143.01" cy="3684.86" r="12.3"/><circle cx="1153.41" cy="3687.22" r="12.3"/><circle cx="1163.81" cy="3680.44" r="12.3"/><circle cx="1174.21" cy="3686.83" r="12.3"/><circle cx="1184.61" cy="3685.55" r="12.3"/><circle cx="1195" cy="3686.36" r="12.3"/><circle cx="1205.4" cy="3692.53" r="12.3"/><circle cx="1215.8" cy="3681.52" r="12.3"/><circle cx="1226.2" cy="3683.25" r="12.3"/><circle cx="1236.6" cy="3687.84" r="12.3"/><circle cx="1247" cy="3685.95" r="12.3"/><circle cx="1257.4" cy="3687.79" r="12.3"/><circle cx="1267.8" cy="3690.76" r="12.3"/><circle cx="1278.2" cy="3688.28" r="12.3"/><circle cx="1288.59" cy="3686.62" r="12.3"/><circle cx="1298.99" cy="3684.09" r="12.3"/><circle cx="1309.39" cy="3684.44" r="12.3"/><circle cx="1319.79" cy="3684.99" r="12.3"/><circle cx="1330.19" cy="3679.33" r="12.3"/><circle cx="1340.59" cy="3684" r="12.3"/><circle cx="1350.99" cy="3677.67" r="12.3"/><circle cx="1361.39" cy="3675.06" r="12.3"/><circle cx="1371.79" cy="3677.6" r="12.3"/><circle cx="1382.18" cy="3680.32" r="12.3"/><circle cx="1392.58" cy="3675.66" r="12.3"/><circle cx="1402.98" cy="3670" r="12.3"/><circle cx="1413.38" cy="3666.71" r="12.3"/><circle cx="1423.78" cy="3661.06" r="12.3"/><circle cx="1434.18" cy="3666.22" r="12.3"/><circle cx="1444.58" cy="3660.62" r="12.3"/><circle cx="1454.98" cy="3656.18" r="12.3"/><circle cx="1465.38" cy="3656.17" r="12.3"/><circle cx="1475.77" cy="3660.39" r="12.3"/><circle cx="1486.17" cy="3648.13" r="12.3"/><circle cx="1496.57" cy="3640.8" r="12.3"/><circle cx="1506.97" cy="3641.91" r="12.3"/><circle cx="1517.37" cy="3644.77" r="12.3"/><circle cx="1527.77" cy="3640.1" r="12.3"/><circle cx="1538.17" cy="3634.85" r="12.3"/><circle cx="1548.57" cy="3624.33" r="12.3"/><circle cx="1558.97" cy="3625.84" r="12.3"/><circle cx="1569.36" cy="3622.97" r="12.3"/><circle cx="1579.76" cy="3614.31" r="12.3"/><circle cx="1590.16" cy="3615.52" r="12.3"/><circle cx="1600.56" cy="3606.49" r="12.3"/><circle cx="1610.96" cy="3611.46" r="12.3"/><circle cx="1621.36" cy="3608.16" r="12.3"/><circle cx="1631.76" cy="3601.73" r="12.3"/><circle cx="1642.16" cy="3596.42" r="12.3"/><circle cx="1652.56" cy="3595.02" r="12.3"/><circle cx="1662.95" cy="3591.94" r="12.3"/><circle cx="1673.35" cy="3594.01" r="12.3"/><circle cx="1683.75" cy="3586.26" r="12.3"/><circle cx="1694.15" cy="3581.71" r="12.3"/><circle cx="1704.55" cy="3577.19" r="12.3"/><circle cx="1714.95" cy="3569.47" r="12.3"/><circle cx="1725.35" cy="3568.05" r="12.3"/><circle cx="1735.75" cy="3560.62" r="12.3"/><circle cx="1746.15" cy="3559.04" r="12.3"/><circle cx="1756.54" cy="3556.8" r="12.3"/><circle cx="1766.94" cy="3552.06" r="12.3"/><circle cx="1777.34" cy="3547.8" r="12.3"/><circle cx="1787.74" cy="3543.15" r="12.3"/><circle cx="1798.14" cy="3543.87" r="12.3"/><circle cx="1808.54" cy="3539.85" r="12.3"/><circle cx="1818.94" cy="3539.99" r="12.3"/><circle cx="1829.34" cy="3527.61" r="12.3"/><circle cx="1839.74" cy="3524.53" r="12.3"/><circle cx="1850.13" cy="3525.61" r="12.3"/><circle cx="1860.53" cy="3522.42" r="12.3"/><circle cx="1870.93" cy="3520.63" r="12.3"/><circle cx="1881.33" cy="3512.52" r="12.3"/><circle cx="1891.73" cy="3508.99" r="12.3"/><circle cx="1902.13" cy="3499.75" r="12.3"/><circle cx="1912.53" cy="3502.57" r="12.3"/><circle cx="1922.93" cy="3502.85" r="12.3"/><circle cx="1933.33" cy="3505.37" r="12.3"/><circle cx="1943.72" cy="3491.45" r="12.3"/><circle cx="1954.12" cy="3493.21" r="12.3"/><circle cx="1964.52" cy="3496.89" r="12.3"/><circle cx="1974.92" cy="3489.69" r="12.3"/><circle cx="1985.32" cy="3493.28" r="12.3"/><circle cx="1995.72" cy="3475.8" r="12.3"/><circle cx="2006.12" cy="3480.86" r="12.3"/><circle cx="2016.52" cy="3480.44" r="12.3"/><circle cx="2026.92" cy="3480.79" r="12.3"/><circle cx="2037.31" cy="3485.06" r="12.3"/><circle cx="2047.71" cy="3477.34" r="12.3"/><circle cx="2058.11" cy="3480.2" r="12.3"/><circle cx="2068.51" cy="3472.3" r="12.3"/><circle cx="2078.91" cy="3479.4" r="12.3"/><circle cx="2089.31" cy="3474.51" r="12.3"/><circle cx="2099.71" cy="3466.92" r="12.3"/><circle cx="2110.11" cy="3464.71" r="12.3"/><circle cx="2120.51" cy="3472.72" r="12.3"/><circle cx="2130.9" cy="3473.59" r="12.3"/><circle cx="2141.3" cy="3466.13" r="12.3"/><circle cx="2151.7" cy="3466.16" r="12.3"/><circle cx="2162.1" cy="3471.77" r="12.3"/><circle cx="2172.5" cy="3469.5" r="12.3"/></g>
<path d="M300.7 3056.94L312.7 3080.74L288.7 3080.74ZM311.1 3058.52L323.1 3082.32L299.1 3082.32ZM321.5 3057.83L333.5 3081.63L309.5 3081.63ZM331.9 3053.33L343.9 3077.13L319.9 3077.13ZM342.3 3056.04L354.3 3079.84L330.3 3079.84ZM352.69 3054.27L364.69 3078.07L340.69 3078.07ZM363.09 3056.28L375.09 3080.08L351.09 3080.08ZM373.49 3058.54L385.49 3082.34L361.49 3082.34ZM383.89 3056.29L395.89 3080.09L371.89 3080.09ZM394.29 3059.5L406.29 3083.3L382.29 3083.3ZM404.69 3061.74L416.69 3085.54L392.69 3085.54ZM415.09 3062.9L427.09 3086.7L403.09 3086.7ZM425.49 3059.63L437.49 3083.43L413.49 3083.43ZM435.89 3059.09L447.89 3082.89L423.89 3082.89ZM446.28 3060.75L458.28 3084.55L434.28 3084.55ZM456.68 3060.96L468.68 3084.76L444.68 3084.76ZM467.08 3063.72L479.08 3087.52L455.08 3087.52ZM477.48 3066.36L489.48 3090.16L465.48 3090.16ZM487.88 3066.29L499.88 3090.09L475.88 3090.09ZM498.28 3068.12L510.28 3091.92L486.28 3091.92ZM508.68 3070.38L520.68 3094.18L496.68 3094.18ZM519.08 3072.45L531.08 3096.25L507.08 3096.25ZM529.48 3073.38L541.48 3097.18L517.48 3097.18ZM539.87 3072.47L551.87 3096.27L527.87 3096.27ZM550.27 3073.68L562.27 3097.48L538.27 3097.48ZM560.67 3076.16L572.67 3099.96L548.67 3099.96ZM571.07 3074.85L583.07 3098.65L559.07 3098.65ZM581.47 3078.37L593.47 3102.17L569.47 3102.17ZM591.87 3079.38L603.87 3103.18L579.87 3103.18ZM602.27 3080.07L614.27 3103.87L590.27 3103.87ZM612.67 3084.86L624.67 3108.66L600.67 3108.66ZM623.07 3088.33L635.07 3112.13L611.07 3112.13ZM633.46 3085.93L645.46 3109.73L621.46 3109.73ZM643.86 3089.88L655.86 3113.68L631.86 3113.68ZM654.26 3088.61L666.26 3112.41L642.26 3112.41ZM664.66 3091.88L676.66 3115.68L652.66 3115.68ZM675.06 3092.7L687.06 3116.5L663.06 3116.5ZM685.46 3094.95L697.46 3118.75L673.46 3118.75ZM695.86 3101.24L707.86 3125.04L683.86 3125.04ZM706.26 3099.01L718.26 3122.81L694.26 3122.81ZM716.66 3103.17L728.66 3126.97L704.66 3126.97ZM727.05 3105.32L739.05 3129.12L715.05 3129.12ZM737.45 3106.8L749.45 3130.6L725.45 3130.6ZM747.85 3106.92L759.85 3130.72L735.85 3130.72ZM758.25 3108.66L770.25 3132.46L746.25 3132.46ZM768.65 3110.35L780.65 3134.15L756.65 3134.15ZM779.05 3116.22L791.05 3140.02L767.05 3140.02ZM789.45 3116.31L801.45 3140.11L777.45 3140.11ZM799.85 3120.61L811.85 3144.41L787.85 3144.41ZM810.25 3118.7L822.25 3142.5L798.25 3142.5ZM820.64 3119.21L832.64 3143.01L808.64 3143.01ZM831.04 3122.97L843.04 3146.77L819.04 3146.77ZM841.44 3123.35L853.44 3147.15L829.44 3147.15ZM851.84 3125.48L863.84 3149.28L839.84 3149.28ZM862.24 3126.49L874.24 3150.29L850.24 3150.29ZM872.64 3131.43L884.64 3155.23L860.64 3155.23ZM883.04 3133.46L895.04 3157.26L871.04 3157.26ZM893.44 3135.28L905.44 3159.08L881.44 3159.08ZM903.84 3133.34L915.84 3157.14L891.84 3157.14ZM914.23 3136.15L926.23 3159.95L902.23 3159.95ZM924.63 3139.7L936.63 3163.5L912.63 3163.5ZM935.03 3140.76L947.03 3164.56L923.03 3164.56ZM945.43 3142.41L957.43 3166.21L933.43 3166.21ZM955.83 3143.68L967.83 3167.48L943.83 3167.48ZM966.23 3145.65L978.23 3169.45L954.23 3169.45ZM976.63 3147.14L988.63 3170.94L964.63 3170.94ZM987.03 3149.8L999.03 3173.6L975.03 3173.6ZM997.43 3150.07L1009.43 3173.87L985.43 3173.87ZM1007.82 3147.74L1019.82 3171.54L995.82 3171.54ZM1018.22 3150.57L1030.22 3174.37L1006.22 3174.37ZM1028.62 3152.4L1040.62 3176.2L1016.62 3176.2ZM1039.02 3153.92L1051.02 3177.72L1027.02 3177.72ZM1049.42 3154.57L1061.42 3178.37L1037.42 3178.37ZM1059.82 3155.18L1071.82 3178.98L1047.82 3178.98ZM1070.22 3157.74L1082.22 3181.54L1058.22 3181.54ZM1080.62 3157.53L1092.62 3181.33L1068.62 3181.33ZM1091.02 3158.71L1103.02 3182.51L1079.02 3182.51ZM1101.41 3161.55L1113.41 3185.35L1089.41 3185.35ZM1111.81 3162.82L1123.81 3186.62L1099.81 3186.62ZM1122.21 3163.99L1134.21 3187.79L1110.21 3187.79ZM1132.61 3164.41L1144.61 3188.21L1120.61 3188.21ZM1143.01 3161.64L1155.01 3185.44L1131.01 3185.44ZM1153.41 3166.74L1165.41 3190.54L1141.41 3190.54ZM1163.81 3163.71L1175.81 3187.51L1151.81 3187.51ZM1174.21 3164.37L1186.21 3188.17L1162.21 3188.17ZM1184.61 3164.62L1196.61 3188.42L1172.61 3188.42ZM1195 3164.06L1207 3187.86L1183 3187.86ZM1205.4 3163.13L1217.4 3186.93L1193.4 3186.93ZM1215.8 3165.27L1227.8 3189.07L1203.8 3189.07ZM1226.2 3165.85L1238.2 3189.65L1214.2 3189.65ZM1236.6 3166.55L1248.6 3190.35L1224.6 3190.35ZM1247 3165.73L1259 3189.53L1235 3189.53ZM1257.4 3164L1269.4 3187.8L1245.4 3187.8ZM1267.8 3165.79L1279.8 3189.59L1255.8 3189.59ZM1278.2 3166.68L1290.2 3190.48L1266.2 3190.48ZM1288.59 3166.33L1300.59 3190.13L1276.59 3190.13ZM1298.99 3165.33L1310.99 3189.13L1286.99 3189.13ZM1309.39 3164.92L1321.39 3188.72L1297.39 3188.72ZM1319.79 3160.41L1331.79 3184.21L1307.79 3184.21ZM1330.19 3161.05L1342.19 3184.85L1318.19 3184.85ZM1340.59 3161.58L1352.59 3185.38L1328.59 3185.38ZM1350.99 3158.65L1362.99 3182.45L1338.99 3182.45ZM1361.39 3161.49L1373.39 3185.29L1349.39 3185.29ZM1371.79 3158.9L1383.79 3182.7L1359.79 3182.7ZM1382.18 3158.23L1394.18 3182.03L1370.18 3182.03ZM1392.58 3161.02L1404.58 3184.82L1380.58 3184.82ZM1402.98 3160.1L1414.98 3183.9L1390.98 3183.9ZM1413.38 3158.09L1425.38 3181.89L1401.38 3181.89ZM1423.78 3154.17L1435.78 3177.97L1411.78 3177.97ZM1434.18 3152.2L1446.18 3176L1422.18 3176ZM1444.58 3154.36L1456.58 3178.16L1432.58 3178.16ZM1454.98 3149.1L1466.98 3172.9L1442.98 3172.9ZM1465.38 3149.54L1477.38 3173.34L1453.38 3173.34ZM1475.77 3148.03L1487.77 3171.83L1463.77 3171.83ZM1486.17 3146.91L1498.17 3170.71L1474.17 3170.71ZM1496.57 3145.28L1508.57 3169.08L1484.57 3169.08ZM1506.97 3146.28L1518.97 3170.08L1494.97 3170.08ZM1517.37 3143.73L1529.37 3167.53L1505.37 3167.53ZM1527.77 3142.7L1539.77 3166.5L1515.77 3166.5ZM1538.17 3138.66L1550.17 3162.46L1526.17 3162.46ZM1548.57 3134.79L1560.57 3158.59L1536.57 3158.59ZM1558.97 3132.32L1570.97 3156.12L1546.97 3156.12ZM1569.36 3135.43L1581.36 3159.23L1557.36 3159.23ZM1579.76 3135.87L1591.76 3159.67L1567.76 3159.67ZM1590.16 3132.09L1602.16 3155.89L1578.16 3155.89ZM1600.56 3131.06L1612.56 3154.86L1588.56 3154.86ZM1610.96 3124.79L1622.96 3148.59L1598.96 3148.59ZM1621.36 3125.21L1633.36 3149.01L1609.36 3149.01ZM1631.76 3125.6L1643.76 3149.4L1619.76 3149.4ZM1642.16 3121.58L1654.16 3145.38L1630.16 3145.38ZM1652.56 3120.68L1664.56 3144.48L1640.56 3144.48ZM1662.95 3122.39L1674.95 3146.19L1650.95 3146.19ZM1673.35 3118.97L1685.35 3142.77L1661.35 3142.77ZM1683.75 3116.49L1695.75 3140.29L1671.75 3140.29ZM1694.15 3113.89L1706.15 3137.69L1682.15 3137.69ZM1704.55 3111.48L1716.55 3135.28L1692.55 3135.28ZM1714.95 3110.1L1726.95 3133.9L1702.95 3133.9ZM1725.35 3107.47L1737.35 3131.27L1713.35 3131.27ZM1735.75 3106.98L1747.75 3130.78L1723.75 3130.78ZM1746.15 3105.88L1758.15 3129.68L1734.15 3129.68ZM1756.54 3100.65L1768.54 3124.45L1744.54 3124.45ZM1766.94 3100.77L1778.94 3124.57L1754.94 3124.57ZM1777.34 3098.94L1789.34 3122.74L1765.34 3122.74ZM1787.74 3100.27L1799.74 3124.07L1775.74 3124.07ZM1798.14 3096.31L1810.14 3120.11L1786.14 3120.11ZM1808.54 3093L1820.54 3116.8L1796.54 3116.8ZM1818.94 3094.36L1830.94 3118.16L1806.94 3118.16ZM1829.34 3088.79L1841.34 3112.59L1817.34 3112.59ZM1839.74 3089.04L1851.74 3112.84L1827.74 3112.84ZM1850.13 3085.84L1862.13 3109.64L1838.13 3109.64ZM1860.53 3084.76L1872.53 3108.56L1848.53 3108.56ZM1870.93 3082.51L1882.93 3106.31L1858.93 3106.31ZM1881.33 3079.44L1893.33 3103.24L1869.33 3103.24ZM1891.73 3080.39L1903.73 3104.19L1879.73 3104.19ZM1902.13 3075.98L1914.13 3099.78L1890.13 3099.78ZM1912.53 3078.16L1924.53 3101.96L1900.53 3101.96ZM1922.93 3077.03L1934.93 3100.83L1910.93 3100.83ZM1933.33 3073.2L1945.33 3097L1921.33 3097ZM1943.72 3074.6L1955.72 3098.4L1931.72 3098.4ZM1954.12 3072.31L1966.12 3096.11L1942.12 3096.11ZM1964.52 3069.2L1976.52 3093L1952.52 3093ZM1974.92 3067.67L1986.92 3091.47L1962.92 3091.47ZM1985.32 3071.2L1997.32 3095L1973.32 3095ZM1995.72 3066.79L2007.72 3090.59L1983.72 3090.59ZM2006.12 3063.76L2018.12 3087.56L1994.12 3087.56ZM2016.52 3063.85L2028.52 3087.65L2004.52 3087.65ZM2026.92 3064.99L2038.92 3088.79L2014.92 3088.79ZM2037.31 3064.33L2049.31 3088.13L2025.31 3088.13ZM2047.71 3062.66L2059.71 3086.46L2035.71 3086.46ZM2058.11 3062.94L2070.11 3086.74L2046.11 3086.74ZM2068.51 3060.93L2080.51 3084.73L2056.51 3084.73ZM2078.91 3060.46L2090.91 3084.26L2066.91 3084.26ZM2089.31 3060.12L2101.31 3083.92L2077.31 3083.92ZM2099.71 3057.86L2111.71 3081.66L2087.71 3081.66ZM2110.11 3059.8L2122.11 3083.6L2098.11 3083.6ZM2120.51 3060.13L2132.51 3083.93L2108.51 3083.93ZM2130.9 3054.77L2142.9 3078.57L2118.9 3078.57ZM2141.3 3057.83L2153.3 3081.63L2129.3 3081.63ZM2151.7 3059.43L2163.7 3083.23L2139.7 3083.23ZM2162.1 3058.82L2174.1 3082.62L2150.1 3082.62ZM2172.5 3058.62L2184.5 3082.42L2160.5 3082.42Z" fill="none" stroke="#f00" stroke-width="7" stroke-linejoin="round"/>
<g fill="none"><path d="M980.35 2889.6H1190.55" stroke="#000" stroke-width="7.1" stroke-linecap="round"/><circle cx="1085" cy="2955.1" r="12.3" stroke="#00f" stroke-width="7.2"/><path d="M980.2 3023.4H1189.7" stroke="#000" stroke-width="8.8" stroke-linecap="round" stroke-dasharray="24.4 31.6"/><path d="M1085 3078.5L1097 3102.3L1073 3102.3Z" stroke="#f00" stroke-width="7" stroke-linejoin="round"/></g>
<g><text letter-spacing="0.15" transform="translate(1213.3 2909.5) scale(1 1.025)" font-size="67">N=1 FEKO</text><text transform="translate(1213.3 2977.5) scale(1 1.025)" font-size="67">N=1 This paper</text><text letter-spacing="0.15" transform="translate(1213.3 3044.8) scale(1 1.025)" font-size="67">N=3 FEKO</text><text transform="translate(1213.3 3111.7) scale(1 1.025)" font-size="67">N=3 This paper</text></g>
</g>
</svg></body></html>
